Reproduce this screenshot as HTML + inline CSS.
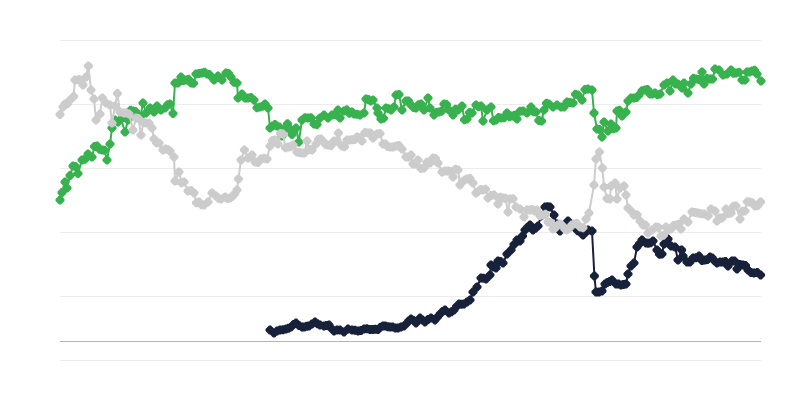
<!DOCTYPE html>
<html lang="en">
<head>
<meta charset="utf-8">
<title>Chart</title>
<style>
html,body{margin:0;padding:0;background:#fff;font-family:"Liberation Sans",sans-serif}
#chart{width:800px;height:400px;overflow:hidden;position:relative}
svg{display:block}
</style>
</head>
<body>
<div id="chart">
<svg width="800" height="400" viewBox="0 0 800 400" role="img" aria-label="Line chart">
<title>Line chart</title>
<rect x="0" y="0" width="800" height="400" fill="#ffffff"/>
<g><path d="M60 40.5H761" stroke="#ececec" stroke-width="1" fill="none"/><path d="M60 104.5H761" stroke="#ececec" stroke-width="1" fill="none"/><path d="M60 168.5H761" stroke="#ececec" stroke-width="1" fill="none"/><path d="M60 232.5H761" stroke="#ececec" stroke-width="1" fill="none"/><path d="M60 296.5H761" stroke="#ececec" stroke-width="1" fill="none"/><path d="M60 360.5H761" stroke="#ececec" stroke-width="1" fill="none"/></g>
<path d="M60 341.5H761" stroke="#b4b4b4" stroke-width="1" fill="none"/>
<g><path d="M 60.0 200.0 L 62.0 192.4 L 65.0 182.0 L 67.0 188.0 L 70.0 175.6 L 73.0 166.0 L 75.5 166.4 L 78.0 173.6 L 82.0 160.0 L 85.0 159.2 L 88.0 154.0 L 92.0 157.0 L 94.5 146.6 L 97.0 146.0 L 99.5 149.2 L 102.0 150.0 L 104.5 150.2 L 107.0 160.0 L 110.0 144.0 L 112.0 128.0 L 115.0 120.0 L 118.0 122.0 L 121.0 119.0 L 125.0 132.0 L 128.0 120.0 L 130.5 110.2 L 133.0 111.0 L 135.5 111.6 L 138.0 116.0 L 140.5 116.2 L 143.0 103.0 L 146.0 113.0 L 150.0 108.0 L 154.0 112.0 L 157.0 106.0 L 161.0 110.0 L 165.0 108.0 L 167.5 104.8 L 170.0 104.0 L 173.0 113.6 L 175.0 83.0 L 178.0 83.0 L 181.0 77.0 L 183.5 80.6 L 186.0 80.0 L 188.5 79.2 L 191.0 83.0 L 193.5 83.2 L 196.0 74.0 L 199.0 73.4 L 202.0 73.0 L 204.5 72.2 L 207.0 74.0 L 209.3 74.4 L 211.7 77.1 L 214.0 80.0 L 218.0 76.0 L 222.0 80.0 L 226.0 73.0 L 228.5 73.5 L 231.0 77.0 L 234.0 82.2 L 237.0 83.0 L 238.0 98.0 L 242.0 94.0 L 245.0 97.9 L 248.0 98.0 L 251.0 97.6 L 254.0 100.0 L 257.0 107.7 L 260.0 107.0 L 262.5 106.3 L 265.0 104.0 L 268.0 108.0 L 270.0 128.0 L 272.5 126.0 L 275.0 124.4 L 277.0 126.0 L 279.4 127.0 L 282.0 136.0 L 284.5 130.0 L 287.5 123.8 L 290.0 129.0 L 292.0 134.4 L 294.0 131.0 L 296.0 128.0 L 298.8 142.0 L 302.0 120.0 L 305.0 117.7 L 308.0 118.0 L 311.0 117.8 L 314.0 124.0 L 317.0 124.6 L 320.0 118.0 L 324.0 115.0 L 328.0 118.0 L 332.0 115.0 L 335.0 114.6 L 338.0 110.0 L 340.0 118.0 L 344.0 111.0 L 346.7 109.8 L 349.3 113.2 L 352.0 112.0 L 354.0 114.0 L 357.0 114.3 L 360.0 115.0 L 364.0 113.0 L 366.0 99.0 L 368.3 99.4 L 370.7 101.1 L 373.0 100.0 L 377.0 108.0 L 378.0 113.0 L 381.0 119.0 L 383.5 118.3 L 386.0 108.0 L 388.5 108.7 L 391.0 110.0 L 394.0 107.0 L 396.0 95.0 L 399.0 94.5 L 402.0 110.0 L 406.0 101.0 L 408.5 100.9 L 411.0 105.0 L 413.5 107.4 L 416.0 108.0 L 418.5 104.8 L 421.0 104.0 L 424.0 110.0 L 428.0 98.0 L 430.0 108.0 L 434.0 115.0 L 436.5 112.4 L 439.0 112.0 L 441.5 111.2 L 444.0 104.0 L 446.5 104.4 L 449.0 110.0 L 453.0 115.0 L 455.5 109.2 L 458.0 110.0 L 462.0 106.0 L 464.5 119.8 L 467.0 119.0 L 469.5 112.4 L 472.0 113.0 L 476.0 105.0 L 478.5 106.8 L 481.0 106.0 L 483.0 121.0 L 487.0 110.0 L 491.0 107.0 L 493.5 120.8 L 496.0 120.0 L 498.5 117.6 L 501.0 118.0 L 504.0 117.8 L 507.0 113.0 L 509.5 116.7 L 512.0 116.0 L 514.5 115.3 L 517.0 119.0 L 520.0 111.2 L 523.0 111.0 L 527.0 113.0 L 531.0 107.0 L 533.5 111.8 L 536.0 112.0 L 538.8 120.6 L 541.6 121.0 L 544.0 110.0 L 546.5 103.3 L 549.0 104.0 L 553.0 107.0 L 557.0 105.0 L 561.0 107.0 L 564.0 107.0 L 567.0 102.0 L 570.0 102.4 L 573.0 103.0 L 575.5 94.2 L 578.0 95.0 L 582.0 100.0 L 585.0 89.4 L 588.0 89.0 L 592.0 90.0 L 594.0 113.0 L 597.0 129.0 L 599.5 129.5 L 602.0 137.0 L 604.0 122.0 L 608.0 131.0 L 611.0 124.0 L 613.5 128.7 L 616.0 128.0 L 617.0 111.0 L 619.5 110.2 L 622.0 116.0 L 626.0 112.0 L 628.0 101.0 L 631.0 97.9 L 634.0 98.0 L 636.5 97.5 L 639.0 95.0 L 642.0 90.8 L 645.0 90.0 L 647.5 89.4 L 650.0 94.0 L 652.5 93.9 L 655.0 93.0 L 657.5 94.7 L 660.0 94.0 L 664.0 85.0 L 667.0 83.0 L 670.0 91.0 L 673.0 80.0 L 675.5 83.9 L 678.0 84.0 L 682.0 88.0 L 684.0 83.0 L 688.0 93.0 L 691.0 84.0 L 693.5 78.2 L 696.0 79.0 L 699.0 79.5 L 702.0 72.0 L 704.0 84.0 L 707.0 78.4 L 710.0 79.0 L 712.5 79.1 L 715.0 69.0 L 719.0 70.0 L 723.0 75.0 L 727.0 74.0 L 731.0 70.0 L 733.5 73.3 L 736.0 73.0 L 739.0 72.2 L 742.0 80.0 L 745.0 80.0 L 747.0 72.0 L 749.5 72.0 L 752.0 71.0 L 754.5 70.3 L 757.0 74.0 L 761.0 81.0" fill="none" stroke="#38b24e" stroke-width="2" stroke-linejoin="round" stroke-linecap="round"/><path d="M59.0 195.5h2.0l3.5 3.5v2.0l-3.5 3.5h-2.0l-3.5 -3.5v-2.0zM61.0 187.9h2.0l3.5 3.5v2.0l-3.5 3.5h-2.0l-3.5 -3.5v-2.0zM64.0 177.5h2.0l3.5 3.5v2.0l-3.5 3.5h-2.0l-3.5 -3.5v-2.0zM66.0 183.5h2.0l3.5 3.5v2.0l-3.5 3.5h-2.0l-3.5 -3.5v-2.0zM69.0 171.1h2.0l3.5 3.5v2.0l-3.5 3.5h-2.0l-3.5 -3.5v-2.0zM72.0 161.5h2.0l3.5 3.5v2.0l-3.5 3.5h-2.0l-3.5 -3.5v-2.0zM74.5 161.9h2.0l3.5 3.5v2.0l-3.5 3.5h-2.0l-3.5 -3.5v-2.0zM77.0 169.1h2.0l3.5 3.5v2.0l-3.5 3.5h-2.0l-3.5 -3.5v-2.0zM81.0 155.5h2.0l3.5 3.5v2.0l-3.5 3.5h-2.0l-3.5 -3.5v-2.0zM84.0 154.7h2.0l3.5 3.5v2.0l-3.5 3.5h-2.0l-3.5 -3.5v-2.0zM87.0 149.5h2.0l3.5 3.5v2.0l-3.5 3.5h-2.0l-3.5 -3.5v-2.0zM91.0 152.5h2.0l3.5 3.5v2.0l-3.5 3.5h-2.0l-3.5 -3.5v-2.0zM93.5 142.1h2.0l3.5 3.5v2.0l-3.5 3.5h-2.0l-3.5 -3.5v-2.0zM96.0 141.5h2.0l3.5 3.5v2.0l-3.5 3.5h-2.0l-3.5 -3.5v-2.0zM98.5 144.7h2.0l3.5 3.5v2.0l-3.5 3.5h-2.0l-3.5 -3.5v-2.0zM101.0 145.5h2.0l3.5 3.5v2.0l-3.5 3.5h-2.0l-3.5 -3.5v-2.0zM103.5 145.7h2.0l3.5 3.5v2.0l-3.5 3.5h-2.0l-3.5 -3.5v-2.0zM106.0 155.5h2.0l3.5 3.5v2.0l-3.5 3.5h-2.0l-3.5 -3.5v-2.0zM109.0 139.5h2.0l3.5 3.5v2.0l-3.5 3.5h-2.0l-3.5 -3.5v-2.0zM111.0 123.5h2.0l3.5 3.5v2.0l-3.5 3.5h-2.0l-3.5 -3.5v-2.0zM114.0 115.5h2.0l3.5 3.5v2.0l-3.5 3.5h-2.0l-3.5 -3.5v-2.0zM117.0 117.5h2.0l3.5 3.5v2.0l-3.5 3.5h-2.0l-3.5 -3.5v-2.0zM120.0 114.5h2.0l3.5 3.5v2.0l-3.5 3.5h-2.0l-3.5 -3.5v-2.0zM124.0 127.5h2.0l3.5 3.5v2.0l-3.5 3.5h-2.0l-3.5 -3.5v-2.0zM127.0 115.5h2.0l3.5 3.5v2.0l-3.5 3.5h-2.0l-3.5 -3.5v-2.0zM129.5 105.7h2.0l3.5 3.5v2.0l-3.5 3.5h-2.0l-3.5 -3.5v-2.0zM132.0 106.5h2.0l3.5 3.5v2.0l-3.5 3.5h-2.0l-3.5 -3.5v-2.0zM134.5 107.1h2.0l3.5 3.5v2.0l-3.5 3.5h-2.0l-3.5 -3.5v-2.0zM137.0 111.5h2.0l3.5 3.5v2.0l-3.5 3.5h-2.0l-3.5 -3.5v-2.0zM139.5 111.7h2.0l3.5 3.5v2.0l-3.5 3.5h-2.0l-3.5 -3.5v-2.0zM142.0 98.5h2.0l3.5 3.5v2.0l-3.5 3.5h-2.0l-3.5 -3.5v-2.0zM145.0 108.5h2.0l3.5 3.5v2.0l-3.5 3.5h-2.0l-3.5 -3.5v-2.0zM149.0 103.5h2.0l3.5 3.5v2.0l-3.5 3.5h-2.0l-3.5 -3.5v-2.0zM153.0 107.5h2.0l3.5 3.5v2.0l-3.5 3.5h-2.0l-3.5 -3.5v-2.0zM156.0 101.5h2.0l3.5 3.5v2.0l-3.5 3.5h-2.0l-3.5 -3.5v-2.0zM160.0 105.5h2.0l3.5 3.5v2.0l-3.5 3.5h-2.0l-3.5 -3.5v-2.0zM164.0 103.5h2.0l3.5 3.5v2.0l-3.5 3.5h-2.0l-3.5 -3.5v-2.0zM166.5 100.3h2.0l3.5 3.5v2.0l-3.5 3.5h-2.0l-3.5 -3.5v-2.0zM169.0 99.5h2.0l3.5 3.5v2.0l-3.5 3.5h-2.0l-3.5 -3.5v-2.0zM172.0 109.1h2.0l3.5 3.5v2.0l-3.5 3.5h-2.0l-3.5 -3.5v-2.0zM174.0 78.5h2.0l3.5 3.5v2.0l-3.5 3.5h-2.0l-3.5 -3.5v-2.0zM177.0 78.5h2.0l3.5 3.5v2.0l-3.5 3.5h-2.0l-3.5 -3.5v-2.0zM180.0 72.5h2.0l3.5 3.5v2.0l-3.5 3.5h-2.0l-3.5 -3.5v-2.0zM182.5 76.1h2.0l3.5 3.5v2.0l-3.5 3.5h-2.0l-3.5 -3.5v-2.0zM185.0 75.5h2.0l3.5 3.5v2.0l-3.5 3.5h-2.0l-3.5 -3.5v-2.0zM187.5 74.7h2.0l3.5 3.5v2.0l-3.5 3.5h-2.0l-3.5 -3.5v-2.0zM190.0 78.5h2.0l3.5 3.5v2.0l-3.5 3.5h-2.0l-3.5 -3.5v-2.0zM192.5 78.7h2.0l3.5 3.5v2.0l-3.5 3.5h-2.0l-3.5 -3.5v-2.0zM195.0 69.5h2.0l3.5 3.5v2.0l-3.5 3.5h-2.0l-3.5 -3.5v-2.0zM198.0 68.9h2.0l3.5 3.5v2.0l-3.5 3.5h-2.0l-3.5 -3.5v-2.0zM201.0 68.5h2.0l3.5 3.5v2.0l-3.5 3.5h-2.0l-3.5 -3.5v-2.0zM203.5 67.7h2.0l3.5 3.5v2.0l-3.5 3.5h-2.0l-3.5 -3.5v-2.0zM206.0 69.5h2.0l3.5 3.5v2.0l-3.5 3.5h-2.0l-3.5 -3.5v-2.0zM208.3 69.9h2.0l3.5 3.5v2.0l-3.5 3.5h-2.0l-3.5 -3.5v-2.0zM210.7 72.6h2.0l3.5 3.5v2.0l-3.5 3.5h-2.0l-3.5 -3.5v-2.0zM213.0 75.5h2.0l3.5 3.5v2.0l-3.5 3.5h-2.0l-3.5 -3.5v-2.0zM217.0 71.5h2.0l3.5 3.5v2.0l-3.5 3.5h-2.0l-3.5 -3.5v-2.0zM221.0 75.5h2.0l3.5 3.5v2.0l-3.5 3.5h-2.0l-3.5 -3.5v-2.0zM225.0 68.5h2.0l3.5 3.5v2.0l-3.5 3.5h-2.0l-3.5 -3.5v-2.0zM227.5 69.0h2.0l3.5 3.5v2.0l-3.5 3.5h-2.0l-3.5 -3.5v-2.0zM230.0 72.5h2.0l3.5 3.5v2.0l-3.5 3.5h-2.0l-3.5 -3.5v-2.0zM233.0 77.7h2.0l3.5 3.5v2.0l-3.5 3.5h-2.0l-3.5 -3.5v-2.0zM236.0 78.5h2.0l3.5 3.5v2.0l-3.5 3.5h-2.0l-3.5 -3.5v-2.0zM237.0 93.5h2.0l3.5 3.5v2.0l-3.5 3.5h-2.0l-3.5 -3.5v-2.0zM241.0 89.5h2.0l3.5 3.5v2.0l-3.5 3.5h-2.0l-3.5 -3.5v-2.0zM244.0 93.4h2.0l3.5 3.5v2.0l-3.5 3.5h-2.0l-3.5 -3.5v-2.0zM247.0 93.5h2.0l3.5 3.5v2.0l-3.5 3.5h-2.0l-3.5 -3.5v-2.0zM250.0 93.1h2.0l3.5 3.5v2.0l-3.5 3.5h-2.0l-3.5 -3.5v-2.0zM253.0 95.5h2.0l3.5 3.5v2.0l-3.5 3.5h-2.0l-3.5 -3.5v-2.0zM256.0 103.2h2.0l3.5 3.5v2.0l-3.5 3.5h-2.0l-3.5 -3.5v-2.0zM259.0 102.5h2.0l3.5 3.5v2.0l-3.5 3.5h-2.0l-3.5 -3.5v-2.0zM261.5 101.8h2.0l3.5 3.5v2.0l-3.5 3.5h-2.0l-3.5 -3.5v-2.0zM264.0 99.5h2.0l3.5 3.5v2.0l-3.5 3.5h-2.0l-3.5 -3.5v-2.0zM267.0 103.5h2.0l3.5 3.5v2.0l-3.5 3.5h-2.0l-3.5 -3.5v-2.0zM269.0 123.5h2.0l3.5 3.5v2.0l-3.5 3.5h-2.0l-3.5 -3.5v-2.0zM271.5 121.5h2.0l3.5 3.5v2.0l-3.5 3.5h-2.0l-3.5 -3.5v-2.0zM274.0 119.9h2.0l3.5 3.5v2.0l-3.5 3.5h-2.0l-3.5 -3.5v-2.0zM276.0 121.5h2.0l3.5 3.5v2.0l-3.5 3.5h-2.0l-3.5 -3.5v-2.0zM278.4 122.5h2.0l3.5 3.5v2.0l-3.5 3.5h-2.0l-3.5 -3.5v-2.0zM281.0 131.5h2.0l3.5 3.5v2.0l-3.5 3.5h-2.0l-3.5 -3.5v-2.0zM283.5 125.5h2.0l3.5 3.5v2.0l-3.5 3.5h-2.0l-3.5 -3.5v-2.0zM286.5 119.2h2.0l3.5 3.5v2.0l-3.5 3.5h-2.0l-3.5 -3.5v-2.0zM289.0 124.5h2.0l3.5 3.5v2.0l-3.5 3.5h-2.0l-3.5 -3.5v-2.0zM291.0 129.9h2.0l3.5 3.5v2.0l-3.5 3.5h-2.0l-3.5 -3.5v-2.0zM293.0 126.5h2.0l3.5 3.5v2.0l-3.5 3.5h-2.0l-3.5 -3.5v-2.0zM295.0 123.5h2.0l3.5 3.5v2.0l-3.5 3.5h-2.0l-3.5 -3.5v-2.0zM297.8 137.5h2.0l3.5 3.5v2.0l-3.5 3.5h-2.0l-3.5 -3.5v-2.0zM301.0 115.5h2.0l3.5 3.5v2.0l-3.5 3.5h-2.0l-3.5 -3.5v-2.0zM304.0 113.2h2.0l3.5 3.5v2.0l-3.5 3.5h-2.0l-3.5 -3.5v-2.0zM307.0 113.5h2.0l3.5 3.5v2.0l-3.5 3.5h-2.0l-3.5 -3.5v-2.0zM310.0 113.3h2.0l3.5 3.5v2.0l-3.5 3.5h-2.0l-3.5 -3.5v-2.0zM313.0 119.5h2.0l3.5 3.5v2.0l-3.5 3.5h-2.0l-3.5 -3.5v-2.0zM316.0 120.1h2.0l3.5 3.5v2.0l-3.5 3.5h-2.0l-3.5 -3.5v-2.0zM319.0 113.5h2.0l3.5 3.5v2.0l-3.5 3.5h-2.0l-3.5 -3.5v-2.0zM323.0 110.5h2.0l3.5 3.5v2.0l-3.5 3.5h-2.0l-3.5 -3.5v-2.0zM327.0 113.5h2.0l3.5 3.5v2.0l-3.5 3.5h-2.0l-3.5 -3.5v-2.0zM331.0 110.5h2.0l3.5 3.5v2.0l-3.5 3.5h-2.0l-3.5 -3.5v-2.0zM334.0 110.1h2.0l3.5 3.5v2.0l-3.5 3.5h-2.0l-3.5 -3.5v-2.0zM337.0 105.5h2.0l3.5 3.5v2.0l-3.5 3.5h-2.0l-3.5 -3.5v-2.0zM339.0 113.5h2.0l3.5 3.5v2.0l-3.5 3.5h-2.0l-3.5 -3.5v-2.0zM343.0 106.5h2.0l3.5 3.5v2.0l-3.5 3.5h-2.0l-3.5 -3.5v-2.0zM345.7 105.3h2.0l3.5 3.5v2.0l-3.5 3.5h-2.0l-3.5 -3.5v-2.0zM348.3 108.7h2.0l3.5 3.5v2.0l-3.5 3.5h-2.0l-3.5 -3.5v-2.0zM351.0 107.5h2.0l3.5 3.5v2.0l-3.5 3.5h-2.0l-3.5 -3.5v-2.0zM353.0 109.5h2.0l3.5 3.5v2.0l-3.5 3.5h-2.0l-3.5 -3.5v-2.0zM356.0 109.8h2.0l3.5 3.5v2.0l-3.5 3.5h-2.0l-3.5 -3.5v-2.0zM359.0 110.5h2.0l3.5 3.5v2.0l-3.5 3.5h-2.0l-3.5 -3.5v-2.0zM363.0 108.5h2.0l3.5 3.5v2.0l-3.5 3.5h-2.0l-3.5 -3.5v-2.0zM365.0 94.5h2.0l3.5 3.5v2.0l-3.5 3.5h-2.0l-3.5 -3.5v-2.0zM367.3 94.9h2.0l3.5 3.5v2.0l-3.5 3.5h-2.0l-3.5 -3.5v-2.0zM369.7 96.6h2.0l3.5 3.5v2.0l-3.5 3.5h-2.0l-3.5 -3.5v-2.0zM372.0 95.5h2.0l3.5 3.5v2.0l-3.5 3.5h-2.0l-3.5 -3.5v-2.0zM376.0 103.5h2.0l3.5 3.5v2.0l-3.5 3.5h-2.0l-3.5 -3.5v-2.0zM377.0 108.5h2.0l3.5 3.5v2.0l-3.5 3.5h-2.0l-3.5 -3.5v-2.0zM380.0 114.5h2.0l3.5 3.5v2.0l-3.5 3.5h-2.0l-3.5 -3.5v-2.0zM382.5 113.8h2.0l3.5 3.5v2.0l-3.5 3.5h-2.0l-3.5 -3.5v-2.0zM385.0 103.5h2.0l3.5 3.5v2.0l-3.5 3.5h-2.0l-3.5 -3.5v-2.0zM387.5 104.2h2.0l3.5 3.5v2.0l-3.5 3.5h-2.0l-3.5 -3.5v-2.0zM390.0 105.5h2.0l3.5 3.5v2.0l-3.5 3.5h-2.0l-3.5 -3.5v-2.0zM393.0 102.5h2.0l3.5 3.5v2.0l-3.5 3.5h-2.0l-3.5 -3.5v-2.0zM395.0 90.5h2.0l3.5 3.5v2.0l-3.5 3.5h-2.0l-3.5 -3.5v-2.0zM398.0 90.0h2.0l3.5 3.5v2.0l-3.5 3.5h-2.0l-3.5 -3.5v-2.0zM401.0 105.5h2.0l3.5 3.5v2.0l-3.5 3.5h-2.0l-3.5 -3.5v-2.0zM405.0 96.5h2.0l3.5 3.5v2.0l-3.5 3.5h-2.0l-3.5 -3.5v-2.0zM407.5 96.4h2.0l3.5 3.5v2.0l-3.5 3.5h-2.0l-3.5 -3.5v-2.0zM410.0 100.5h2.0l3.5 3.5v2.0l-3.5 3.5h-2.0l-3.5 -3.5v-2.0zM412.5 102.9h2.0l3.5 3.5v2.0l-3.5 3.5h-2.0l-3.5 -3.5v-2.0zM415.0 103.5h2.0l3.5 3.5v2.0l-3.5 3.5h-2.0l-3.5 -3.5v-2.0zM417.5 100.3h2.0l3.5 3.5v2.0l-3.5 3.5h-2.0l-3.5 -3.5v-2.0zM420.0 99.5h2.0l3.5 3.5v2.0l-3.5 3.5h-2.0l-3.5 -3.5v-2.0zM423.0 105.5h2.0l3.5 3.5v2.0l-3.5 3.5h-2.0l-3.5 -3.5v-2.0zM427.0 93.5h2.0l3.5 3.5v2.0l-3.5 3.5h-2.0l-3.5 -3.5v-2.0zM429.0 103.5h2.0l3.5 3.5v2.0l-3.5 3.5h-2.0l-3.5 -3.5v-2.0zM433.0 110.5h2.0l3.5 3.5v2.0l-3.5 3.5h-2.0l-3.5 -3.5v-2.0zM435.5 107.9h2.0l3.5 3.5v2.0l-3.5 3.5h-2.0l-3.5 -3.5v-2.0zM438.0 107.5h2.0l3.5 3.5v2.0l-3.5 3.5h-2.0l-3.5 -3.5v-2.0zM440.5 106.7h2.0l3.5 3.5v2.0l-3.5 3.5h-2.0l-3.5 -3.5v-2.0zM443.0 99.5h2.0l3.5 3.5v2.0l-3.5 3.5h-2.0l-3.5 -3.5v-2.0zM445.5 99.9h2.0l3.5 3.5v2.0l-3.5 3.5h-2.0l-3.5 -3.5v-2.0zM448.0 105.5h2.0l3.5 3.5v2.0l-3.5 3.5h-2.0l-3.5 -3.5v-2.0zM452.0 110.5h2.0l3.5 3.5v2.0l-3.5 3.5h-2.0l-3.5 -3.5v-2.0zM454.5 104.7h2.0l3.5 3.5v2.0l-3.5 3.5h-2.0l-3.5 -3.5v-2.0zM457.0 105.5h2.0l3.5 3.5v2.0l-3.5 3.5h-2.0l-3.5 -3.5v-2.0zM461.0 101.5h2.0l3.5 3.5v2.0l-3.5 3.5h-2.0l-3.5 -3.5v-2.0zM463.5 115.3h2.0l3.5 3.5v2.0l-3.5 3.5h-2.0l-3.5 -3.5v-2.0zM466.0 114.5h2.0l3.5 3.5v2.0l-3.5 3.5h-2.0l-3.5 -3.5v-2.0zM468.5 107.9h2.0l3.5 3.5v2.0l-3.5 3.5h-2.0l-3.5 -3.5v-2.0zM471.0 108.5h2.0l3.5 3.5v2.0l-3.5 3.5h-2.0l-3.5 -3.5v-2.0zM475.0 100.5h2.0l3.5 3.5v2.0l-3.5 3.5h-2.0l-3.5 -3.5v-2.0zM477.5 102.3h2.0l3.5 3.5v2.0l-3.5 3.5h-2.0l-3.5 -3.5v-2.0zM480.0 101.5h2.0l3.5 3.5v2.0l-3.5 3.5h-2.0l-3.5 -3.5v-2.0zM482.0 116.5h2.0l3.5 3.5v2.0l-3.5 3.5h-2.0l-3.5 -3.5v-2.0zM486.0 105.5h2.0l3.5 3.5v2.0l-3.5 3.5h-2.0l-3.5 -3.5v-2.0zM490.0 102.5h2.0l3.5 3.5v2.0l-3.5 3.5h-2.0l-3.5 -3.5v-2.0zM492.5 116.3h2.0l3.5 3.5v2.0l-3.5 3.5h-2.0l-3.5 -3.5v-2.0zM495.0 115.5h2.0l3.5 3.5v2.0l-3.5 3.5h-2.0l-3.5 -3.5v-2.0zM497.5 113.1h2.0l3.5 3.5v2.0l-3.5 3.5h-2.0l-3.5 -3.5v-2.0zM500.0 113.5h2.0l3.5 3.5v2.0l-3.5 3.5h-2.0l-3.5 -3.5v-2.0zM503.0 113.3h2.0l3.5 3.5v2.0l-3.5 3.5h-2.0l-3.5 -3.5v-2.0zM506.0 108.5h2.0l3.5 3.5v2.0l-3.5 3.5h-2.0l-3.5 -3.5v-2.0zM508.5 112.2h2.0l3.5 3.5v2.0l-3.5 3.5h-2.0l-3.5 -3.5v-2.0zM511.0 111.5h2.0l3.5 3.5v2.0l-3.5 3.5h-2.0l-3.5 -3.5v-2.0zM513.5 110.8h2.0l3.5 3.5v2.0l-3.5 3.5h-2.0l-3.5 -3.5v-2.0zM516.0 114.5h2.0l3.5 3.5v2.0l-3.5 3.5h-2.0l-3.5 -3.5v-2.0zM519.0 106.7h2.0l3.5 3.5v2.0l-3.5 3.5h-2.0l-3.5 -3.5v-2.0zM522.0 106.5h2.0l3.5 3.5v2.0l-3.5 3.5h-2.0l-3.5 -3.5v-2.0zM526.0 108.5h2.0l3.5 3.5v2.0l-3.5 3.5h-2.0l-3.5 -3.5v-2.0zM530.0 102.5h2.0l3.5 3.5v2.0l-3.5 3.5h-2.0l-3.5 -3.5v-2.0zM532.5 107.3h2.0l3.5 3.5v2.0l-3.5 3.5h-2.0l-3.5 -3.5v-2.0zM535.0 107.5h2.0l3.5 3.5v2.0l-3.5 3.5h-2.0l-3.5 -3.5v-2.0zM537.8 116.1h2.0l3.5 3.5v2.0l-3.5 3.5h-2.0l-3.5 -3.5v-2.0zM540.6 116.5h2.0l3.5 3.5v2.0l-3.5 3.5h-2.0l-3.5 -3.5v-2.0zM543.0 105.5h2.0l3.5 3.5v2.0l-3.5 3.5h-2.0l-3.5 -3.5v-2.0zM545.5 98.8h2.0l3.5 3.5v2.0l-3.5 3.5h-2.0l-3.5 -3.5v-2.0zM548.0 99.5h2.0l3.5 3.5v2.0l-3.5 3.5h-2.0l-3.5 -3.5v-2.0zM552.0 102.5h2.0l3.5 3.5v2.0l-3.5 3.5h-2.0l-3.5 -3.5v-2.0zM556.0 100.5h2.0l3.5 3.5v2.0l-3.5 3.5h-2.0l-3.5 -3.5v-2.0zM560.0 102.5h2.0l3.5 3.5v2.0l-3.5 3.5h-2.0l-3.5 -3.5v-2.0zM563.0 102.5h2.0l3.5 3.5v2.0l-3.5 3.5h-2.0l-3.5 -3.5v-2.0zM566.0 97.5h2.0l3.5 3.5v2.0l-3.5 3.5h-2.0l-3.5 -3.5v-2.0zM569.0 97.9h2.0l3.5 3.5v2.0l-3.5 3.5h-2.0l-3.5 -3.5v-2.0zM572.0 98.5h2.0l3.5 3.5v2.0l-3.5 3.5h-2.0l-3.5 -3.5v-2.0zM574.5 89.7h2.0l3.5 3.5v2.0l-3.5 3.5h-2.0l-3.5 -3.5v-2.0zM577.0 90.5h2.0l3.5 3.5v2.0l-3.5 3.5h-2.0l-3.5 -3.5v-2.0zM581.0 95.5h2.0l3.5 3.5v2.0l-3.5 3.5h-2.0l-3.5 -3.5v-2.0zM584.0 84.9h2.0l3.5 3.5v2.0l-3.5 3.5h-2.0l-3.5 -3.5v-2.0zM587.0 84.5h2.0l3.5 3.5v2.0l-3.5 3.5h-2.0l-3.5 -3.5v-2.0zM591.0 85.5h2.0l3.5 3.5v2.0l-3.5 3.5h-2.0l-3.5 -3.5v-2.0zM593.0 108.5h2.0l3.5 3.5v2.0l-3.5 3.5h-2.0l-3.5 -3.5v-2.0zM596.0 124.5h2.0l3.5 3.5v2.0l-3.5 3.5h-2.0l-3.5 -3.5v-2.0zM598.5 125.0h2.0l3.5 3.5v2.0l-3.5 3.5h-2.0l-3.5 -3.5v-2.0zM601.0 132.5h2.0l3.5 3.5v2.0l-3.5 3.5h-2.0l-3.5 -3.5v-2.0zM603.0 117.5h2.0l3.5 3.5v2.0l-3.5 3.5h-2.0l-3.5 -3.5v-2.0zM607.0 126.5h2.0l3.5 3.5v2.0l-3.5 3.5h-2.0l-3.5 -3.5v-2.0zM610.0 119.5h2.0l3.5 3.5v2.0l-3.5 3.5h-2.0l-3.5 -3.5v-2.0zM612.5 124.2h2.0l3.5 3.5v2.0l-3.5 3.5h-2.0l-3.5 -3.5v-2.0zM615.0 123.5h2.0l3.5 3.5v2.0l-3.5 3.5h-2.0l-3.5 -3.5v-2.0zM616.0 106.5h2.0l3.5 3.5v2.0l-3.5 3.5h-2.0l-3.5 -3.5v-2.0zM618.5 105.7h2.0l3.5 3.5v2.0l-3.5 3.5h-2.0l-3.5 -3.5v-2.0zM621.0 111.5h2.0l3.5 3.5v2.0l-3.5 3.5h-2.0l-3.5 -3.5v-2.0zM625.0 107.5h2.0l3.5 3.5v2.0l-3.5 3.5h-2.0l-3.5 -3.5v-2.0zM627.0 96.5h2.0l3.5 3.5v2.0l-3.5 3.5h-2.0l-3.5 -3.5v-2.0zM630.0 93.4h2.0l3.5 3.5v2.0l-3.5 3.5h-2.0l-3.5 -3.5v-2.0zM633.0 93.5h2.0l3.5 3.5v2.0l-3.5 3.5h-2.0l-3.5 -3.5v-2.0zM635.5 93.0h2.0l3.5 3.5v2.0l-3.5 3.5h-2.0l-3.5 -3.5v-2.0zM638.0 90.5h2.0l3.5 3.5v2.0l-3.5 3.5h-2.0l-3.5 -3.5v-2.0zM641.0 86.3h2.0l3.5 3.5v2.0l-3.5 3.5h-2.0l-3.5 -3.5v-2.0zM644.0 85.5h2.0l3.5 3.5v2.0l-3.5 3.5h-2.0l-3.5 -3.5v-2.0zM646.5 84.9h2.0l3.5 3.5v2.0l-3.5 3.5h-2.0l-3.5 -3.5v-2.0zM649.0 89.5h2.0l3.5 3.5v2.0l-3.5 3.5h-2.0l-3.5 -3.5v-2.0zM651.5 89.4h2.0l3.5 3.5v2.0l-3.5 3.5h-2.0l-3.5 -3.5v-2.0zM654.0 88.5h2.0l3.5 3.5v2.0l-3.5 3.5h-2.0l-3.5 -3.5v-2.0zM656.5 90.2h2.0l3.5 3.5v2.0l-3.5 3.5h-2.0l-3.5 -3.5v-2.0zM659.0 89.5h2.0l3.5 3.5v2.0l-3.5 3.5h-2.0l-3.5 -3.5v-2.0zM663.0 80.5h2.0l3.5 3.5v2.0l-3.5 3.5h-2.0l-3.5 -3.5v-2.0zM666.0 78.5h2.0l3.5 3.5v2.0l-3.5 3.5h-2.0l-3.5 -3.5v-2.0zM669.0 86.5h2.0l3.5 3.5v2.0l-3.5 3.5h-2.0l-3.5 -3.5v-2.0zM672.0 75.5h2.0l3.5 3.5v2.0l-3.5 3.5h-2.0l-3.5 -3.5v-2.0zM674.5 79.4h2.0l3.5 3.5v2.0l-3.5 3.5h-2.0l-3.5 -3.5v-2.0zM677.0 79.5h2.0l3.5 3.5v2.0l-3.5 3.5h-2.0l-3.5 -3.5v-2.0zM681.0 83.5h2.0l3.5 3.5v2.0l-3.5 3.5h-2.0l-3.5 -3.5v-2.0zM683.0 78.5h2.0l3.5 3.5v2.0l-3.5 3.5h-2.0l-3.5 -3.5v-2.0zM687.0 88.5h2.0l3.5 3.5v2.0l-3.5 3.5h-2.0l-3.5 -3.5v-2.0zM690.0 79.5h2.0l3.5 3.5v2.0l-3.5 3.5h-2.0l-3.5 -3.5v-2.0zM692.5 73.7h2.0l3.5 3.5v2.0l-3.5 3.5h-2.0l-3.5 -3.5v-2.0zM695.0 74.5h2.0l3.5 3.5v2.0l-3.5 3.5h-2.0l-3.5 -3.5v-2.0zM698.0 75.0h2.0l3.5 3.5v2.0l-3.5 3.5h-2.0l-3.5 -3.5v-2.0zM701.0 67.5h2.0l3.5 3.5v2.0l-3.5 3.5h-2.0l-3.5 -3.5v-2.0zM703.0 79.5h2.0l3.5 3.5v2.0l-3.5 3.5h-2.0l-3.5 -3.5v-2.0zM706.0 73.9h2.0l3.5 3.5v2.0l-3.5 3.5h-2.0l-3.5 -3.5v-2.0zM709.0 74.5h2.0l3.5 3.5v2.0l-3.5 3.5h-2.0l-3.5 -3.5v-2.0zM711.5 74.6h2.0l3.5 3.5v2.0l-3.5 3.5h-2.0l-3.5 -3.5v-2.0zM714.0 64.5h2.0l3.5 3.5v2.0l-3.5 3.5h-2.0l-3.5 -3.5v-2.0zM718.0 65.5h2.0l3.5 3.5v2.0l-3.5 3.5h-2.0l-3.5 -3.5v-2.0zM722.0 70.5h2.0l3.5 3.5v2.0l-3.5 3.5h-2.0l-3.5 -3.5v-2.0zM726.0 69.5h2.0l3.5 3.5v2.0l-3.5 3.5h-2.0l-3.5 -3.5v-2.0zM730.0 65.5h2.0l3.5 3.5v2.0l-3.5 3.5h-2.0l-3.5 -3.5v-2.0zM732.5 68.8h2.0l3.5 3.5v2.0l-3.5 3.5h-2.0l-3.5 -3.5v-2.0zM735.0 68.5h2.0l3.5 3.5v2.0l-3.5 3.5h-2.0l-3.5 -3.5v-2.0zM738.0 67.7h2.0l3.5 3.5v2.0l-3.5 3.5h-2.0l-3.5 -3.5v-2.0zM741.0 75.5h2.0l3.5 3.5v2.0l-3.5 3.5h-2.0l-3.5 -3.5v-2.0zM744.0 75.5h2.0l3.5 3.5v2.0l-3.5 3.5h-2.0l-3.5 -3.5v-2.0zM746.0 67.5h2.0l3.5 3.5v2.0l-3.5 3.5h-2.0l-3.5 -3.5v-2.0zM748.5 67.5h2.0l3.5 3.5v2.0l-3.5 3.5h-2.0l-3.5 -3.5v-2.0zM751.0 66.5h2.0l3.5 3.5v2.0l-3.5 3.5h-2.0l-3.5 -3.5v-2.0zM753.5 65.8h2.0l3.5 3.5v2.0l-3.5 3.5h-2.0l-3.5 -3.5v-2.0zM756.0 69.5h2.0l3.5 3.5v2.0l-3.5 3.5h-2.0l-3.5 -3.5v-2.0zM760.0 76.5h2.0l3.5 3.5v2.0l-3.5 3.5h-2.0l-3.5 -3.5v-2.0z" fill="#38b24e"/></g>
<g><path d="M 270.0 330.0 L 274.0 333.0 L 277.0 331.1 L 280.0 330.0 L 283.0 329.7 L 286.0 329.0 L 288.5 328.2 L 291.0 327.0 L 293.5 324.5 L 296.0 323.0 L 299.0 325.4 L 302.0 327.0 L 304.3 327.1 L 306.7 326.3 L 309.0 326.0 L 312.0 324.1 L 315.0 322.0 L 317.5 323.8 L 320.0 325.0 L 324.0 326.0 L 326.5 325.5 L 329.0 325.0 L 331.5 328.4 L 334.0 331.0 L 337.0 330.0 L 340.0 330.0 L 344.0 332.0 L 348.0 329.0 L 352.0 330.0 L 355.0 330.3 L 358.0 331.0 L 361.0 330.4 L 364.0 329.0 L 367.0 328.7 L 370.0 329.4 L 372.7 329.6 L 375.3 329.3 L 378.0 329.4 L 380.5 327.3 L 383.0 326.0 L 385.3 326.0 L 387.7 326.8 L 390.0 327.0 L 392.7 326.9 L 395.3 328.1 L 398.0 328.0 L 401.0 327.1 L 404.0 326.0 L 406.3 323.8 L 408.7 321.0 L 411.0 319.0 L 413.5 320.6 L 416.0 323.0 L 420.0 318.0 L 422.5 320.1 L 425.0 322.0 L 428.0 319.6 L 431.0 318.0 L 435.0 320.0 L 437.5 317.1 L 440.0 314.0 L 442.5 311.5 L 445.0 310.0 L 449.0 313.0 L 451.5 311.7 L 454.0 310.0 L 456.5 306.5 L 459.0 304.0 L 461.5 304.3 L 464.0 304.0 L 467.0 302.1 L 470.0 300.0 L 473.0 292.0 L 477.0 287.0 L 481.0 278.0 L 483.5 278.2 L 486.0 279.0 L 490.0 275.0 L 491.0 265.0 L 493.5 267.0 L 496.0 268.0 L 498.0 261.0 L 500.5 261.5 L 503.0 263.0 L 507.0 254.0 L 511.0 250.0 L 514.0 244.6 L 517.0 240.0 L 520.0 241.0 L 522.5 236.0 L 525.0 230.0 L 527.5 227.3 L 530.0 225.0 L 533.0 230.0 L 535.5 228.3 L 538.0 226.0 L 541.0 216.0 L 545.0 207.0 L 547.5 206.7 L 550.0 207.0 L 554.0 215.0 L 557.0 224.0 L 560.0 231.0 L 562.7 228.2 L 565.3 223.8 L 568.0 221.0 L 570.3 223.6 L 572.7 225.4 L 575.0 228.0 L 577.7 230.8 L 580.3 232.2 L 583.0 235.0 L 585.5 232.6 L 588.0 230.0 L 592.0 231.0 L 594.4 276.0 L 596.0 292.0 L 599.0 291.9 L 602.0 291.0 L 605.0 284.0 L 607.3 282.4 L 609.7 281.6 L 612.0 280.0 L 616.0 284.0 L 618.5 284.0 L 621.0 285.0 L 623.5 284.6 L 626.0 284.0 L 628.0 274.0 L 631.0 266.0 L 634.0 263.0 L 637.0 247.0 L 639.5 243.8 L 642.0 240.0 L 646.0 243.0 L 648.3 243.3 L 650.7 242.8 L 653.0 241.0 L 657.0 250.0 L 659.5 254.2 L 662.0 254.0 L 664.0 244.0 L 668.0 239.0 L 671.0 246.0 L 675.0 247.0 L 678.0 260.0 L 681.6 250.0 L 683.0 256.0 L 687.0 262.0 L 690.0 262.0 L 693.0 258.0 L 696.0 257.7 L 699.0 256.0 L 702.0 260.6 L 705.0 260.0 L 707.5 259.5 L 710.0 257.0 L 712.3 257.9 L 714.7 261.0 L 717.0 263.0 L 720.0 261.9 L 723.0 262.0 L 725.5 261.6 L 728.0 266.0 L 732.0 261.0 L 734.5 261.0 L 737.0 269.0 L 740.0 264.6 L 743.0 265.0 L 745.5 265.6 L 748.0 270.0 L 751.0 272.6 L 754.0 273.0 L 757.3 272.5 L 760.6 275.0" fill="none" stroke="#18213a" stroke-width="2" stroke-linejoin="round" stroke-linecap="round"/><path d="M269.0 325.5h2.0l3.5 3.5v2.0l-3.5 3.5h-2.0l-3.5 -3.5v-2.0zM273.0 328.5h2.0l3.5 3.5v2.0l-3.5 3.5h-2.0l-3.5 -3.5v-2.0zM276.0 326.6h2.0l3.5 3.5v2.0l-3.5 3.5h-2.0l-3.5 -3.5v-2.0zM279.0 325.5h2.0l3.5 3.5v2.0l-3.5 3.5h-2.0l-3.5 -3.5v-2.0zM282.0 325.2h2.0l3.5 3.5v2.0l-3.5 3.5h-2.0l-3.5 -3.5v-2.0zM285.0 324.5h2.0l3.5 3.5v2.0l-3.5 3.5h-2.0l-3.5 -3.5v-2.0zM287.5 323.7h2.0l3.5 3.5v2.0l-3.5 3.5h-2.0l-3.5 -3.5v-2.0zM290.0 322.5h2.0l3.5 3.5v2.0l-3.5 3.5h-2.0l-3.5 -3.5v-2.0zM292.5 320.0h2.0l3.5 3.5v2.0l-3.5 3.5h-2.0l-3.5 -3.5v-2.0zM295.0 318.5h2.0l3.5 3.5v2.0l-3.5 3.5h-2.0l-3.5 -3.5v-2.0zM298.0 320.9h2.0l3.5 3.5v2.0l-3.5 3.5h-2.0l-3.5 -3.5v-2.0zM301.0 322.5h2.0l3.5 3.5v2.0l-3.5 3.5h-2.0l-3.5 -3.5v-2.0zM303.3 322.6h2.0l3.5 3.5v2.0l-3.5 3.5h-2.0l-3.5 -3.5v-2.0zM305.7 321.8h2.0l3.5 3.5v2.0l-3.5 3.5h-2.0l-3.5 -3.5v-2.0zM308.0 321.5h2.0l3.5 3.5v2.0l-3.5 3.5h-2.0l-3.5 -3.5v-2.0zM311.0 319.6h2.0l3.5 3.5v2.0l-3.5 3.5h-2.0l-3.5 -3.5v-2.0zM314.0 317.5h2.0l3.5 3.5v2.0l-3.5 3.5h-2.0l-3.5 -3.5v-2.0zM316.5 319.3h2.0l3.5 3.5v2.0l-3.5 3.5h-2.0l-3.5 -3.5v-2.0zM319.0 320.5h2.0l3.5 3.5v2.0l-3.5 3.5h-2.0l-3.5 -3.5v-2.0zM323.0 321.5h2.0l3.5 3.5v2.0l-3.5 3.5h-2.0l-3.5 -3.5v-2.0zM325.5 321.0h2.0l3.5 3.5v2.0l-3.5 3.5h-2.0l-3.5 -3.5v-2.0zM328.0 320.5h2.0l3.5 3.5v2.0l-3.5 3.5h-2.0l-3.5 -3.5v-2.0zM330.5 323.9h2.0l3.5 3.5v2.0l-3.5 3.5h-2.0l-3.5 -3.5v-2.0zM333.0 326.5h2.0l3.5 3.5v2.0l-3.5 3.5h-2.0l-3.5 -3.5v-2.0zM336.0 325.5h2.0l3.5 3.5v2.0l-3.5 3.5h-2.0l-3.5 -3.5v-2.0zM339.0 325.5h2.0l3.5 3.5v2.0l-3.5 3.5h-2.0l-3.5 -3.5v-2.0zM343.0 327.5h2.0l3.5 3.5v2.0l-3.5 3.5h-2.0l-3.5 -3.5v-2.0zM347.0 324.5h2.0l3.5 3.5v2.0l-3.5 3.5h-2.0l-3.5 -3.5v-2.0zM351.0 325.5h2.0l3.5 3.5v2.0l-3.5 3.5h-2.0l-3.5 -3.5v-2.0zM354.0 325.8h2.0l3.5 3.5v2.0l-3.5 3.5h-2.0l-3.5 -3.5v-2.0zM357.0 326.5h2.0l3.5 3.5v2.0l-3.5 3.5h-2.0l-3.5 -3.5v-2.0zM360.0 325.9h2.0l3.5 3.5v2.0l-3.5 3.5h-2.0l-3.5 -3.5v-2.0zM363.0 324.5h2.0l3.5 3.5v2.0l-3.5 3.5h-2.0l-3.5 -3.5v-2.0zM366.0 324.2h2.0l3.5 3.5v2.0l-3.5 3.5h-2.0l-3.5 -3.5v-2.0zM369.0 324.9h2.0l3.5 3.5v2.0l-3.5 3.5h-2.0l-3.5 -3.5v-2.0zM371.7 325.1h2.0l3.5 3.5v2.0l-3.5 3.5h-2.0l-3.5 -3.5v-2.0zM374.3 324.8h2.0l3.5 3.5v2.0l-3.5 3.5h-2.0l-3.5 -3.5v-2.0zM377.0 324.9h2.0l3.5 3.5v2.0l-3.5 3.5h-2.0l-3.5 -3.5v-2.0zM379.5 322.8h2.0l3.5 3.5v2.0l-3.5 3.5h-2.0l-3.5 -3.5v-2.0zM382.0 321.5h2.0l3.5 3.5v2.0l-3.5 3.5h-2.0l-3.5 -3.5v-2.0zM384.3 321.5h2.0l3.5 3.5v2.0l-3.5 3.5h-2.0l-3.5 -3.5v-2.0zM386.7 322.3h2.0l3.5 3.5v2.0l-3.5 3.5h-2.0l-3.5 -3.5v-2.0zM389.0 322.5h2.0l3.5 3.5v2.0l-3.5 3.5h-2.0l-3.5 -3.5v-2.0zM391.7 322.4h2.0l3.5 3.5v2.0l-3.5 3.5h-2.0l-3.5 -3.5v-2.0zM394.3 323.6h2.0l3.5 3.5v2.0l-3.5 3.5h-2.0l-3.5 -3.5v-2.0zM397.0 323.5h2.0l3.5 3.5v2.0l-3.5 3.5h-2.0l-3.5 -3.5v-2.0zM400.0 322.6h2.0l3.5 3.5v2.0l-3.5 3.5h-2.0l-3.5 -3.5v-2.0zM403.0 321.5h2.0l3.5 3.5v2.0l-3.5 3.5h-2.0l-3.5 -3.5v-2.0zM405.3 319.3h2.0l3.5 3.5v2.0l-3.5 3.5h-2.0l-3.5 -3.5v-2.0zM407.7 316.5h2.0l3.5 3.5v2.0l-3.5 3.5h-2.0l-3.5 -3.5v-2.0zM410.0 314.5h2.0l3.5 3.5v2.0l-3.5 3.5h-2.0l-3.5 -3.5v-2.0zM412.5 316.1h2.0l3.5 3.5v2.0l-3.5 3.5h-2.0l-3.5 -3.5v-2.0zM415.0 318.5h2.0l3.5 3.5v2.0l-3.5 3.5h-2.0l-3.5 -3.5v-2.0zM419.0 313.5h2.0l3.5 3.5v2.0l-3.5 3.5h-2.0l-3.5 -3.5v-2.0zM421.5 315.6h2.0l3.5 3.5v2.0l-3.5 3.5h-2.0l-3.5 -3.5v-2.0zM424.0 317.5h2.0l3.5 3.5v2.0l-3.5 3.5h-2.0l-3.5 -3.5v-2.0zM427.0 315.1h2.0l3.5 3.5v2.0l-3.5 3.5h-2.0l-3.5 -3.5v-2.0zM430.0 313.5h2.0l3.5 3.5v2.0l-3.5 3.5h-2.0l-3.5 -3.5v-2.0zM434.0 315.5h2.0l3.5 3.5v2.0l-3.5 3.5h-2.0l-3.5 -3.5v-2.0zM436.5 312.6h2.0l3.5 3.5v2.0l-3.5 3.5h-2.0l-3.5 -3.5v-2.0zM439.0 309.5h2.0l3.5 3.5v2.0l-3.5 3.5h-2.0l-3.5 -3.5v-2.0zM441.5 307.0h2.0l3.5 3.5v2.0l-3.5 3.5h-2.0l-3.5 -3.5v-2.0zM444.0 305.5h2.0l3.5 3.5v2.0l-3.5 3.5h-2.0l-3.5 -3.5v-2.0zM448.0 308.5h2.0l3.5 3.5v2.0l-3.5 3.5h-2.0l-3.5 -3.5v-2.0zM450.5 307.2h2.0l3.5 3.5v2.0l-3.5 3.5h-2.0l-3.5 -3.5v-2.0zM453.0 305.5h2.0l3.5 3.5v2.0l-3.5 3.5h-2.0l-3.5 -3.5v-2.0zM455.5 302.0h2.0l3.5 3.5v2.0l-3.5 3.5h-2.0l-3.5 -3.5v-2.0zM458.0 299.5h2.0l3.5 3.5v2.0l-3.5 3.5h-2.0l-3.5 -3.5v-2.0zM460.5 299.8h2.0l3.5 3.5v2.0l-3.5 3.5h-2.0l-3.5 -3.5v-2.0zM463.0 299.5h2.0l3.5 3.5v2.0l-3.5 3.5h-2.0l-3.5 -3.5v-2.0zM466.0 297.6h2.0l3.5 3.5v2.0l-3.5 3.5h-2.0l-3.5 -3.5v-2.0zM469.0 295.5h2.0l3.5 3.5v2.0l-3.5 3.5h-2.0l-3.5 -3.5v-2.0zM472.0 287.5h2.0l3.5 3.5v2.0l-3.5 3.5h-2.0l-3.5 -3.5v-2.0zM476.0 282.5h2.0l3.5 3.5v2.0l-3.5 3.5h-2.0l-3.5 -3.5v-2.0zM480.0 273.5h2.0l3.5 3.5v2.0l-3.5 3.5h-2.0l-3.5 -3.5v-2.0zM482.5 273.7h2.0l3.5 3.5v2.0l-3.5 3.5h-2.0l-3.5 -3.5v-2.0zM485.0 274.5h2.0l3.5 3.5v2.0l-3.5 3.5h-2.0l-3.5 -3.5v-2.0zM489.0 270.5h2.0l3.5 3.5v2.0l-3.5 3.5h-2.0l-3.5 -3.5v-2.0zM490.0 260.5h2.0l3.5 3.5v2.0l-3.5 3.5h-2.0l-3.5 -3.5v-2.0zM492.5 262.5h2.0l3.5 3.5v2.0l-3.5 3.5h-2.0l-3.5 -3.5v-2.0zM495.0 263.5h2.0l3.5 3.5v2.0l-3.5 3.5h-2.0l-3.5 -3.5v-2.0zM497.0 256.5h2.0l3.5 3.5v2.0l-3.5 3.5h-2.0l-3.5 -3.5v-2.0zM499.5 257.0h2.0l3.5 3.5v2.0l-3.5 3.5h-2.0l-3.5 -3.5v-2.0zM502.0 258.5h2.0l3.5 3.5v2.0l-3.5 3.5h-2.0l-3.5 -3.5v-2.0zM506.0 249.5h2.0l3.5 3.5v2.0l-3.5 3.5h-2.0l-3.5 -3.5v-2.0zM510.0 245.5h2.0l3.5 3.5v2.0l-3.5 3.5h-2.0l-3.5 -3.5v-2.0zM513.0 240.1h2.0l3.5 3.5v2.0l-3.5 3.5h-2.0l-3.5 -3.5v-2.0zM516.0 235.5h2.0l3.5 3.5v2.0l-3.5 3.5h-2.0l-3.5 -3.5v-2.0zM519.0 236.5h2.0l3.5 3.5v2.0l-3.5 3.5h-2.0l-3.5 -3.5v-2.0zM521.5 231.5h2.0l3.5 3.5v2.0l-3.5 3.5h-2.0l-3.5 -3.5v-2.0zM524.0 225.5h2.0l3.5 3.5v2.0l-3.5 3.5h-2.0l-3.5 -3.5v-2.0zM526.5 222.8h2.0l3.5 3.5v2.0l-3.5 3.5h-2.0l-3.5 -3.5v-2.0zM529.0 220.5h2.0l3.5 3.5v2.0l-3.5 3.5h-2.0l-3.5 -3.5v-2.0zM532.0 225.5h2.0l3.5 3.5v2.0l-3.5 3.5h-2.0l-3.5 -3.5v-2.0zM534.5 223.8h2.0l3.5 3.5v2.0l-3.5 3.5h-2.0l-3.5 -3.5v-2.0zM537.0 221.5h2.0l3.5 3.5v2.0l-3.5 3.5h-2.0l-3.5 -3.5v-2.0zM540.0 211.5h2.0l3.5 3.5v2.0l-3.5 3.5h-2.0l-3.5 -3.5v-2.0zM544.0 202.5h2.0l3.5 3.5v2.0l-3.5 3.5h-2.0l-3.5 -3.5v-2.0zM546.5 202.2h2.0l3.5 3.5v2.0l-3.5 3.5h-2.0l-3.5 -3.5v-2.0zM549.0 202.5h2.0l3.5 3.5v2.0l-3.5 3.5h-2.0l-3.5 -3.5v-2.0zM553.0 210.5h2.0l3.5 3.5v2.0l-3.5 3.5h-2.0l-3.5 -3.5v-2.0zM556.0 219.5h2.0l3.5 3.5v2.0l-3.5 3.5h-2.0l-3.5 -3.5v-2.0zM559.0 226.5h2.0l3.5 3.5v2.0l-3.5 3.5h-2.0l-3.5 -3.5v-2.0zM561.7 223.7h2.0l3.5 3.5v2.0l-3.5 3.5h-2.0l-3.5 -3.5v-2.0zM564.3 219.3h2.0l3.5 3.5v2.0l-3.5 3.5h-2.0l-3.5 -3.5v-2.0zM567.0 216.5h2.0l3.5 3.5v2.0l-3.5 3.5h-2.0l-3.5 -3.5v-2.0zM569.3 219.1h2.0l3.5 3.5v2.0l-3.5 3.5h-2.0l-3.5 -3.5v-2.0zM571.7 220.9h2.0l3.5 3.5v2.0l-3.5 3.5h-2.0l-3.5 -3.5v-2.0zM574.0 223.5h2.0l3.5 3.5v2.0l-3.5 3.5h-2.0l-3.5 -3.5v-2.0zM576.7 226.3h2.0l3.5 3.5v2.0l-3.5 3.5h-2.0l-3.5 -3.5v-2.0zM579.3 227.7h2.0l3.5 3.5v2.0l-3.5 3.5h-2.0l-3.5 -3.5v-2.0zM582.0 230.5h2.0l3.5 3.5v2.0l-3.5 3.5h-2.0l-3.5 -3.5v-2.0zM584.5 228.1h2.0l3.5 3.5v2.0l-3.5 3.5h-2.0l-3.5 -3.5v-2.0zM587.0 225.5h2.0l3.5 3.5v2.0l-3.5 3.5h-2.0l-3.5 -3.5v-2.0zM591.0 226.5h2.0l3.5 3.5v2.0l-3.5 3.5h-2.0l-3.5 -3.5v-2.0zM593.4 271.5h2.0l3.5 3.5v2.0l-3.5 3.5h-2.0l-3.5 -3.5v-2.0zM595.0 287.5h2.0l3.5 3.5v2.0l-3.5 3.5h-2.0l-3.5 -3.5v-2.0zM598.0 287.4h2.0l3.5 3.5v2.0l-3.5 3.5h-2.0l-3.5 -3.5v-2.0zM601.0 286.5h2.0l3.5 3.5v2.0l-3.5 3.5h-2.0l-3.5 -3.5v-2.0zM604.0 279.5h2.0l3.5 3.5v2.0l-3.5 3.5h-2.0l-3.5 -3.5v-2.0zM606.3 277.9h2.0l3.5 3.5v2.0l-3.5 3.5h-2.0l-3.5 -3.5v-2.0zM608.7 277.1h2.0l3.5 3.5v2.0l-3.5 3.5h-2.0l-3.5 -3.5v-2.0zM611.0 275.5h2.0l3.5 3.5v2.0l-3.5 3.5h-2.0l-3.5 -3.5v-2.0zM615.0 279.5h2.0l3.5 3.5v2.0l-3.5 3.5h-2.0l-3.5 -3.5v-2.0zM617.5 279.5h2.0l3.5 3.5v2.0l-3.5 3.5h-2.0l-3.5 -3.5v-2.0zM620.0 280.5h2.0l3.5 3.5v2.0l-3.5 3.5h-2.0l-3.5 -3.5v-2.0zM622.5 280.1h2.0l3.5 3.5v2.0l-3.5 3.5h-2.0l-3.5 -3.5v-2.0zM625.0 279.5h2.0l3.5 3.5v2.0l-3.5 3.5h-2.0l-3.5 -3.5v-2.0zM627.0 269.5h2.0l3.5 3.5v2.0l-3.5 3.5h-2.0l-3.5 -3.5v-2.0zM630.0 261.5h2.0l3.5 3.5v2.0l-3.5 3.5h-2.0l-3.5 -3.5v-2.0zM633.0 258.5h2.0l3.5 3.5v2.0l-3.5 3.5h-2.0l-3.5 -3.5v-2.0zM636.0 242.5h2.0l3.5 3.5v2.0l-3.5 3.5h-2.0l-3.5 -3.5v-2.0zM638.5 239.3h2.0l3.5 3.5v2.0l-3.5 3.5h-2.0l-3.5 -3.5v-2.0zM641.0 235.5h2.0l3.5 3.5v2.0l-3.5 3.5h-2.0l-3.5 -3.5v-2.0zM645.0 238.5h2.0l3.5 3.5v2.0l-3.5 3.5h-2.0l-3.5 -3.5v-2.0zM647.3 238.8h2.0l3.5 3.5v2.0l-3.5 3.5h-2.0l-3.5 -3.5v-2.0zM649.7 238.3h2.0l3.5 3.5v2.0l-3.5 3.5h-2.0l-3.5 -3.5v-2.0zM652.0 236.5h2.0l3.5 3.5v2.0l-3.5 3.5h-2.0l-3.5 -3.5v-2.0zM656.0 245.5h2.0l3.5 3.5v2.0l-3.5 3.5h-2.0l-3.5 -3.5v-2.0zM658.5 249.7h2.0l3.5 3.5v2.0l-3.5 3.5h-2.0l-3.5 -3.5v-2.0zM661.0 249.5h2.0l3.5 3.5v2.0l-3.5 3.5h-2.0l-3.5 -3.5v-2.0zM663.0 239.5h2.0l3.5 3.5v2.0l-3.5 3.5h-2.0l-3.5 -3.5v-2.0zM667.0 234.5h2.0l3.5 3.5v2.0l-3.5 3.5h-2.0l-3.5 -3.5v-2.0zM670.0 241.5h2.0l3.5 3.5v2.0l-3.5 3.5h-2.0l-3.5 -3.5v-2.0zM674.0 242.5h2.0l3.5 3.5v2.0l-3.5 3.5h-2.0l-3.5 -3.5v-2.0zM677.0 255.5h2.0l3.5 3.5v2.0l-3.5 3.5h-2.0l-3.5 -3.5v-2.0zM680.6 245.5h2.0l3.5 3.5v2.0l-3.5 3.5h-2.0l-3.5 -3.5v-2.0zM682.0 251.5h2.0l3.5 3.5v2.0l-3.5 3.5h-2.0l-3.5 -3.5v-2.0zM686.0 257.5h2.0l3.5 3.5v2.0l-3.5 3.5h-2.0l-3.5 -3.5v-2.0zM689.0 257.5h2.0l3.5 3.5v2.0l-3.5 3.5h-2.0l-3.5 -3.5v-2.0zM692.0 253.5h2.0l3.5 3.5v2.0l-3.5 3.5h-2.0l-3.5 -3.5v-2.0zM695.0 253.2h2.0l3.5 3.5v2.0l-3.5 3.5h-2.0l-3.5 -3.5v-2.0zM698.0 251.5h2.0l3.5 3.5v2.0l-3.5 3.5h-2.0l-3.5 -3.5v-2.0zM701.0 256.1h2.0l3.5 3.5v2.0l-3.5 3.5h-2.0l-3.5 -3.5v-2.0zM704.0 255.5h2.0l3.5 3.5v2.0l-3.5 3.5h-2.0l-3.5 -3.5v-2.0zM706.5 255.0h2.0l3.5 3.5v2.0l-3.5 3.5h-2.0l-3.5 -3.5v-2.0zM709.0 252.5h2.0l3.5 3.5v2.0l-3.5 3.5h-2.0l-3.5 -3.5v-2.0zM711.3 253.4h2.0l3.5 3.5v2.0l-3.5 3.5h-2.0l-3.5 -3.5v-2.0zM713.7 256.5h2.0l3.5 3.5v2.0l-3.5 3.5h-2.0l-3.5 -3.5v-2.0zM716.0 258.5h2.0l3.5 3.5v2.0l-3.5 3.5h-2.0l-3.5 -3.5v-2.0zM719.0 257.4h2.0l3.5 3.5v2.0l-3.5 3.5h-2.0l-3.5 -3.5v-2.0zM722.0 257.5h2.0l3.5 3.5v2.0l-3.5 3.5h-2.0l-3.5 -3.5v-2.0zM724.5 257.1h2.0l3.5 3.5v2.0l-3.5 3.5h-2.0l-3.5 -3.5v-2.0zM727.0 261.5h2.0l3.5 3.5v2.0l-3.5 3.5h-2.0l-3.5 -3.5v-2.0zM731.0 256.5h2.0l3.5 3.5v2.0l-3.5 3.5h-2.0l-3.5 -3.5v-2.0zM733.5 256.5h2.0l3.5 3.5v2.0l-3.5 3.5h-2.0l-3.5 -3.5v-2.0zM736.0 264.5h2.0l3.5 3.5v2.0l-3.5 3.5h-2.0l-3.5 -3.5v-2.0zM739.0 260.1h2.0l3.5 3.5v2.0l-3.5 3.5h-2.0l-3.5 -3.5v-2.0zM742.0 260.5h2.0l3.5 3.5v2.0l-3.5 3.5h-2.0l-3.5 -3.5v-2.0zM744.5 261.1h2.0l3.5 3.5v2.0l-3.5 3.5h-2.0l-3.5 -3.5v-2.0zM747.0 265.5h2.0l3.5 3.5v2.0l-3.5 3.5h-2.0l-3.5 -3.5v-2.0zM750.0 268.1h2.0l3.5 3.5v2.0l-3.5 3.5h-2.0l-3.5 -3.5v-2.0zM753.0 268.5h2.0l3.5 3.5v2.0l-3.5 3.5h-2.0l-3.5 -3.5v-2.0zM756.3 268.0h2.0l3.5 3.5v2.0l-3.5 3.5h-2.0l-3.5 -3.5v-2.0zM759.6 270.5h2.0l3.5 3.5v2.0l-3.5 3.5h-2.0l-3.5 -3.5v-2.0z" fill="#18213a"/></g>
<g><path d="M 60.0 114.4 L 63.0 107.0 L 65.0 104.0 L 67.5 103.8 L 70.0 100.0 L 73.6 96.4 L 75.0 80.0 L 79.0 79.6 L 83.0 85.0 L 86.0 77.0 L 88.4 66.0 L 91.0 90.0 L 94.0 99.0 L 96.0 120.0 L 100.0 114.0 L 102.4 98.0 L 106.0 103.0 L 110.0 105.0 L 112.0 123.0 L 115.0 106.0 L 117.4 93.6 L 120.0 112.0 L 124.0 113.0 L 126.5 112.9 L 129.0 114.0 L 133.0 130.0 L 136.0 118.0 L 138.5 118.6 L 141.0 135.0 L 143.5 122.4 L 146.0 123.0 L 149.0 123.2 L 152.0 128.0 L 154.0 139.0 L 156.5 142.8 L 159.0 143.0 L 163.0 150.0 L 165.3 149.0 L 167.7 149.6 L 170.0 151.0 L 174.0 157.0 L 175.0 181.0 L 179.0 172.0 L 181.5 182.7 L 184.0 182.0 L 188.0 191.0 L 191.0 190.5 L 194.0 193.0 L 196.5 202.7 L 199.0 202.0 L 201.5 204.7 L 204.0 205.0 L 208.0 202.0 L 212.0 193.0 L 216.0 196.0 L 218.5 198.3 L 221.0 199.0 L 225.0 197.0 L 227.5 198.6 L 230.0 198.0 L 232.3 196.6 L 234.7 193.8 L 237.0 190.0 L 238.4 179.0 L 241.0 160.0 L 244.4 150.0 L 248.0 158.0 L 252.0 155.0 L 255.0 162.0 L 258.0 162.5 L 261.0 159.0 L 264.0 158.3 L 267.0 159.0 L 270.0 146.0 L 272.5 140.5 L 275.0 140.0 L 278.0 144.0 L 280.5 133.6 L 283.0 134.0 L 285.5 147.7 L 288.0 147.0 L 290.5 146.7 L 293.0 145.0 L 297.0 152.0 L 299.5 152.6 L 302.0 153.0 L 304.5 152.9 L 307.0 141.0 L 309.5 149.5 L 312.0 150.0 L 316.0 144.0 L 318.5 139.2 L 321.0 139.0 L 323.3 141.4 L 325.7 144.4 L 328.0 145.0 L 331.0 145.7 L 334.0 141.0 L 336.2 141.2 L 338.4 133.0 L 342.0 146.0 L 344.5 146.7 L 347.0 140.0 L 350.0 140.0 L 352.3 139.7 L 354.7 139.4 L 357.0 137.0 L 359.5 137.7 L 362.0 141.0 L 365.0 132.6 L 368.0 133.0 L 370.5 132.9 L 373.0 138.0 L 377.0 134.0 L 380.0 133.6 L 383.0 144.0 L 385.3 144.0 L 387.7 146.4 L 390.0 147.0 L 393.0 147.1 L 396.0 146.0 L 399.0 145.6 L 402.0 149.0 L 406.0 157.0 L 408.5 156.9 L 411.0 155.0 L 413.0 164.0 L 415.5 164.0 L 418.0 160.0 L 421.0 168.5 L 424.0 168.0 L 427.0 162.3 L 430.0 163.0 L 433.0 158.0 L 435.5 158.6 L 438.0 163.0 L 442.0 172.0 L 445.0 171.0 L 448.0 171.0 L 450.5 171.5 L 453.0 177.0 L 455.5 169.3 L 458.0 170.0 L 460.0 185.0 L 462.3 181.7 L 464.7 179.9 L 467.0 179.0 L 470.0 178.4 L 473.0 183.0 L 476.0 193.0 L 478.3 191.2 L 480.7 189.6 L 483.0 190.0 L 485.5 189.3 L 488.0 198.0 L 491.0 195.4 L 494.0 195.0 L 498.0 204.0 L 500.5 197.3 L 503.0 198.0 L 505.5 198.3 L 508.0 212.0 L 510.0 199.0 L 513.0 198.7 L 516.0 207.0 L 520.0 209.0 L 524.0 217.0 L 527.0 209.9 L 530.0 210.0 L 532.3 209.6 L 534.7 211.1 L 537.0 210.0 L 540.0 215.4 L 543.0 215.0 L 545.5 214.3 L 548.0 222.0 L 550.5 222.4 L 553.0 229.0 L 555.3 228.1 L 557.7 225.0 L 560.0 224.0 L 562.3 225.5 L 564.7 228.9 L 567.0 230.0 L 569.3 228.3 L 571.7 224.9 L 574.0 224.0 L 577.0 223.5 L 580.0 227.0 L 583.0 227.7 L 586.0 219.0 L 589.0 213.0 L 594.0 185.0 L 596.0 159.0 L 599.4 152.0 L 602.4 168.0 L 604.0 187.0 L 607.0 198.6 L 610.0 199.0 L 611.0 186.0 L 615.0 183.0 L 617.0 199.0 L 620.0 188.0 L 624.0 186.0 L 626.0 195.0 L 628.0 208.0 L 632.0 212.0 L 634.0 215.0 L 637.0 214.7 L 640.0 221.0 L 643.0 225.0 L 645.5 225.0 L 648.0 233.0 L 652.0 230.0 L 656.0 227.0 L 658.5 227.5 L 661.0 236.0 L 663.5 235.3 L 666.0 227.0 L 668.5 229.2 L 671.0 229.0 L 673.5 225.5 L 676.0 225.0 L 678.5 224.3 L 681.0 229.0 L 684.0 219.0 L 688.0 222.0 L 692.0 212.0 L 695.0 212.4 L 698.0 213.0 L 701.0 213.7 L 704.0 214.0 L 708.0 216.0 L 711.0 209.0 L 715.0 211.0 L 717.0 221.0 L 719.5 218.1 L 722.0 218.0 L 726.0 209.0 L 728.5 213.4 L 731.0 213.0 L 733.5 206.3 L 736.0 206.0 L 740.0 219.0 L 742.5 211.2 L 745.0 211.0 L 747.3 201.8 L 749.6 202.0 L 752.3 202.7 L 755.0 206.0 L 757.8 205.4 L 760.6 202.0" fill="none" stroke="#cccccc" stroke-width="2" stroke-linejoin="round" stroke-linecap="round"/><path d="M59.0 109.9h2.0l3.5 3.5v2.0l-3.5 3.5h-2.0l-3.5 -3.5v-2.0zM62.0 102.5h2.0l3.5 3.5v2.0l-3.5 3.5h-2.0l-3.5 -3.5v-2.0zM64.0 99.5h2.0l3.5 3.5v2.0l-3.5 3.5h-2.0l-3.5 -3.5v-2.0zM66.5 99.3h2.0l3.5 3.5v2.0l-3.5 3.5h-2.0l-3.5 -3.5v-2.0zM69.0 95.5h2.0l3.5 3.5v2.0l-3.5 3.5h-2.0l-3.5 -3.5v-2.0zM72.6 91.9h2.0l3.5 3.5v2.0l-3.5 3.5h-2.0l-3.5 -3.5v-2.0zM74.0 75.5h2.0l3.5 3.5v2.0l-3.5 3.5h-2.0l-3.5 -3.5v-2.0zM78.0 75.1h2.0l3.5 3.5v2.0l-3.5 3.5h-2.0l-3.5 -3.5v-2.0zM82.0 80.5h2.0l3.5 3.5v2.0l-3.5 3.5h-2.0l-3.5 -3.5v-2.0zM85.0 72.5h2.0l3.5 3.5v2.0l-3.5 3.5h-2.0l-3.5 -3.5v-2.0zM87.4 61.5h2.0l3.5 3.5v2.0l-3.5 3.5h-2.0l-3.5 -3.5v-2.0zM90.0 85.5h2.0l3.5 3.5v2.0l-3.5 3.5h-2.0l-3.5 -3.5v-2.0zM93.0 94.5h2.0l3.5 3.5v2.0l-3.5 3.5h-2.0l-3.5 -3.5v-2.0zM95.0 115.5h2.0l3.5 3.5v2.0l-3.5 3.5h-2.0l-3.5 -3.5v-2.0zM99.0 109.5h2.0l3.5 3.5v2.0l-3.5 3.5h-2.0l-3.5 -3.5v-2.0zM101.4 93.5h2.0l3.5 3.5v2.0l-3.5 3.5h-2.0l-3.5 -3.5v-2.0zM105.0 98.5h2.0l3.5 3.5v2.0l-3.5 3.5h-2.0l-3.5 -3.5v-2.0zM109.0 100.5h2.0l3.5 3.5v2.0l-3.5 3.5h-2.0l-3.5 -3.5v-2.0zM111.0 118.5h2.0l3.5 3.5v2.0l-3.5 3.5h-2.0l-3.5 -3.5v-2.0zM114.0 101.5h2.0l3.5 3.5v2.0l-3.5 3.5h-2.0l-3.5 -3.5v-2.0zM116.4 89.1h2.0l3.5 3.5v2.0l-3.5 3.5h-2.0l-3.5 -3.5v-2.0zM119.0 107.5h2.0l3.5 3.5v2.0l-3.5 3.5h-2.0l-3.5 -3.5v-2.0zM123.0 108.5h2.0l3.5 3.5v2.0l-3.5 3.5h-2.0l-3.5 -3.5v-2.0zM125.5 108.4h2.0l3.5 3.5v2.0l-3.5 3.5h-2.0l-3.5 -3.5v-2.0zM128.0 109.5h2.0l3.5 3.5v2.0l-3.5 3.5h-2.0l-3.5 -3.5v-2.0zM132.0 125.5h2.0l3.5 3.5v2.0l-3.5 3.5h-2.0l-3.5 -3.5v-2.0zM135.0 113.5h2.0l3.5 3.5v2.0l-3.5 3.5h-2.0l-3.5 -3.5v-2.0zM137.5 114.1h2.0l3.5 3.5v2.0l-3.5 3.5h-2.0l-3.5 -3.5v-2.0zM140.0 130.5h2.0l3.5 3.5v2.0l-3.5 3.5h-2.0l-3.5 -3.5v-2.0zM142.5 117.9h2.0l3.5 3.5v2.0l-3.5 3.5h-2.0l-3.5 -3.5v-2.0zM145.0 118.5h2.0l3.5 3.5v2.0l-3.5 3.5h-2.0l-3.5 -3.5v-2.0zM148.0 118.7h2.0l3.5 3.5v2.0l-3.5 3.5h-2.0l-3.5 -3.5v-2.0zM151.0 123.5h2.0l3.5 3.5v2.0l-3.5 3.5h-2.0l-3.5 -3.5v-2.0zM153.0 134.5h2.0l3.5 3.5v2.0l-3.5 3.5h-2.0l-3.5 -3.5v-2.0zM155.5 138.3h2.0l3.5 3.5v2.0l-3.5 3.5h-2.0l-3.5 -3.5v-2.0zM158.0 138.5h2.0l3.5 3.5v2.0l-3.5 3.5h-2.0l-3.5 -3.5v-2.0zM162.0 145.5h2.0l3.5 3.5v2.0l-3.5 3.5h-2.0l-3.5 -3.5v-2.0zM164.3 144.5h2.0l3.5 3.5v2.0l-3.5 3.5h-2.0l-3.5 -3.5v-2.0zM166.7 145.1h2.0l3.5 3.5v2.0l-3.5 3.5h-2.0l-3.5 -3.5v-2.0zM169.0 146.5h2.0l3.5 3.5v2.0l-3.5 3.5h-2.0l-3.5 -3.5v-2.0zM173.0 152.5h2.0l3.5 3.5v2.0l-3.5 3.5h-2.0l-3.5 -3.5v-2.0zM174.0 176.5h2.0l3.5 3.5v2.0l-3.5 3.5h-2.0l-3.5 -3.5v-2.0zM178.0 167.5h2.0l3.5 3.5v2.0l-3.5 3.5h-2.0l-3.5 -3.5v-2.0zM180.5 178.2h2.0l3.5 3.5v2.0l-3.5 3.5h-2.0l-3.5 -3.5v-2.0zM183.0 177.5h2.0l3.5 3.5v2.0l-3.5 3.5h-2.0l-3.5 -3.5v-2.0zM187.0 186.5h2.0l3.5 3.5v2.0l-3.5 3.5h-2.0l-3.5 -3.5v-2.0zM190.0 186.0h2.0l3.5 3.5v2.0l-3.5 3.5h-2.0l-3.5 -3.5v-2.0zM193.0 188.5h2.0l3.5 3.5v2.0l-3.5 3.5h-2.0l-3.5 -3.5v-2.0zM195.5 198.2h2.0l3.5 3.5v2.0l-3.5 3.5h-2.0l-3.5 -3.5v-2.0zM198.0 197.5h2.0l3.5 3.5v2.0l-3.5 3.5h-2.0l-3.5 -3.5v-2.0zM200.5 200.2h2.0l3.5 3.5v2.0l-3.5 3.5h-2.0l-3.5 -3.5v-2.0zM203.0 200.5h2.0l3.5 3.5v2.0l-3.5 3.5h-2.0l-3.5 -3.5v-2.0zM207.0 197.5h2.0l3.5 3.5v2.0l-3.5 3.5h-2.0l-3.5 -3.5v-2.0zM211.0 188.5h2.0l3.5 3.5v2.0l-3.5 3.5h-2.0l-3.5 -3.5v-2.0zM215.0 191.5h2.0l3.5 3.5v2.0l-3.5 3.5h-2.0l-3.5 -3.5v-2.0zM217.5 193.8h2.0l3.5 3.5v2.0l-3.5 3.5h-2.0l-3.5 -3.5v-2.0zM220.0 194.5h2.0l3.5 3.5v2.0l-3.5 3.5h-2.0l-3.5 -3.5v-2.0zM224.0 192.5h2.0l3.5 3.5v2.0l-3.5 3.5h-2.0l-3.5 -3.5v-2.0zM226.5 194.1h2.0l3.5 3.5v2.0l-3.5 3.5h-2.0l-3.5 -3.5v-2.0zM229.0 193.5h2.0l3.5 3.5v2.0l-3.5 3.5h-2.0l-3.5 -3.5v-2.0zM231.3 192.1h2.0l3.5 3.5v2.0l-3.5 3.5h-2.0l-3.5 -3.5v-2.0zM233.7 189.3h2.0l3.5 3.5v2.0l-3.5 3.5h-2.0l-3.5 -3.5v-2.0zM236.0 185.5h2.0l3.5 3.5v2.0l-3.5 3.5h-2.0l-3.5 -3.5v-2.0zM237.4 174.5h2.0l3.5 3.5v2.0l-3.5 3.5h-2.0l-3.5 -3.5v-2.0zM240.0 155.5h2.0l3.5 3.5v2.0l-3.5 3.5h-2.0l-3.5 -3.5v-2.0zM243.4 145.5h2.0l3.5 3.5v2.0l-3.5 3.5h-2.0l-3.5 -3.5v-2.0zM247.0 153.5h2.0l3.5 3.5v2.0l-3.5 3.5h-2.0l-3.5 -3.5v-2.0zM251.0 150.5h2.0l3.5 3.5v2.0l-3.5 3.5h-2.0l-3.5 -3.5v-2.0zM254.0 157.5h2.0l3.5 3.5v2.0l-3.5 3.5h-2.0l-3.5 -3.5v-2.0zM257.0 158.0h2.0l3.5 3.5v2.0l-3.5 3.5h-2.0l-3.5 -3.5v-2.0zM260.0 154.5h2.0l3.5 3.5v2.0l-3.5 3.5h-2.0l-3.5 -3.5v-2.0zM263.0 153.8h2.0l3.5 3.5v2.0l-3.5 3.5h-2.0l-3.5 -3.5v-2.0zM266.0 154.5h2.0l3.5 3.5v2.0l-3.5 3.5h-2.0l-3.5 -3.5v-2.0zM269.0 141.5h2.0l3.5 3.5v2.0l-3.5 3.5h-2.0l-3.5 -3.5v-2.0zM271.5 136.0h2.0l3.5 3.5v2.0l-3.5 3.5h-2.0l-3.5 -3.5v-2.0zM274.0 135.5h2.0l3.5 3.5v2.0l-3.5 3.5h-2.0l-3.5 -3.5v-2.0zM277.0 139.5h2.0l3.5 3.5v2.0l-3.5 3.5h-2.0l-3.5 -3.5v-2.0zM279.5 129.1h2.0l3.5 3.5v2.0l-3.5 3.5h-2.0l-3.5 -3.5v-2.0zM282.0 129.5h2.0l3.5 3.5v2.0l-3.5 3.5h-2.0l-3.5 -3.5v-2.0zM284.5 143.2h2.0l3.5 3.5v2.0l-3.5 3.5h-2.0l-3.5 -3.5v-2.0zM287.0 142.5h2.0l3.5 3.5v2.0l-3.5 3.5h-2.0l-3.5 -3.5v-2.0zM289.5 142.2h2.0l3.5 3.5v2.0l-3.5 3.5h-2.0l-3.5 -3.5v-2.0zM292.0 140.5h2.0l3.5 3.5v2.0l-3.5 3.5h-2.0l-3.5 -3.5v-2.0zM296.0 147.5h2.0l3.5 3.5v2.0l-3.5 3.5h-2.0l-3.5 -3.5v-2.0zM298.5 148.1h2.0l3.5 3.5v2.0l-3.5 3.5h-2.0l-3.5 -3.5v-2.0zM301.0 148.5h2.0l3.5 3.5v2.0l-3.5 3.5h-2.0l-3.5 -3.5v-2.0zM303.5 148.4h2.0l3.5 3.5v2.0l-3.5 3.5h-2.0l-3.5 -3.5v-2.0zM306.0 136.5h2.0l3.5 3.5v2.0l-3.5 3.5h-2.0l-3.5 -3.5v-2.0zM308.5 145.0h2.0l3.5 3.5v2.0l-3.5 3.5h-2.0l-3.5 -3.5v-2.0zM311.0 145.5h2.0l3.5 3.5v2.0l-3.5 3.5h-2.0l-3.5 -3.5v-2.0zM315.0 139.5h2.0l3.5 3.5v2.0l-3.5 3.5h-2.0l-3.5 -3.5v-2.0zM317.5 134.7h2.0l3.5 3.5v2.0l-3.5 3.5h-2.0l-3.5 -3.5v-2.0zM320.0 134.5h2.0l3.5 3.5v2.0l-3.5 3.5h-2.0l-3.5 -3.5v-2.0zM322.3 136.9h2.0l3.5 3.5v2.0l-3.5 3.5h-2.0l-3.5 -3.5v-2.0zM324.7 139.9h2.0l3.5 3.5v2.0l-3.5 3.5h-2.0l-3.5 -3.5v-2.0zM327.0 140.5h2.0l3.5 3.5v2.0l-3.5 3.5h-2.0l-3.5 -3.5v-2.0zM330.0 141.2h2.0l3.5 3.5v2.0l-3.5 3.5h-2.0l-3.5 -3.5v-2.0zM333.0 136.5h2.0l3.5 3.5v2.0l-3.5 3.5h-2.0l-3.5 -3.5v-2.0zM335.2 136.7h2.0l3.5 3.5v2.0l-3.5 3.5h-2.0l-3.5 -3.5v-2.0zM337.4 128.5h2.0l3.5 3.5v2.0l-3.5 3.5h-2.0l-3.5 -3.5v-2.0zM341.0 141.5h2.0l3.5 3.5v2.0l-3.5 3.5h-2.0l-3.5 -3.5v-2.0zM343.5 142.2h2.0l3.5 3.5v2.0l-3.5 3.5h-2.0l-3.5 -3.5v-2.0zM346.0 135.5h2.0l3.5 3.5v2.0l-3.5 3.5h-2.0l-3.5 -3.5v-2.0zM349.0 135.5h2.0l3.5 3.5v2.0l-3.5 3.5h-2.0l-3.5 -3.5v-2.0zM351.3 135.2h2.0l3.5 3.5v2.0l-3.5 3.5h-2.0l-3.5 -3.5v-2.0zM353.7 134.9h2.0l3.5 3.5v2.0l-3.5 3.5h-2.0l-3.5 -3.5v-2.0zM356.0 132.5h2.0l3.5 3.5v2.0l-3.5 3.5h-2.0l-3.5 -3.5v-2.0zM358.5 133.2h2.0l3.5 3.5v2.0l-3.5 3.5h-2.0l-3.5 -3.5v-2.0zM361.0 136.5h2.0l3.5 3.5v2.0l-3.5 3.5h-2.0l-3.5 -3.5v-2.0zM364.0 128.1h2.0l3.5 3.5v2.0l-3.5 3.5h-2.0l-3.5 -3.5v-2.0zM367.0 128.5h2.0l3.5 3.5v2.0l-3.5 3.5h-2.0l-3.5 -3.5v-2.0zM369.5 128.4h2.0l3.5 3.5v2.0l-3.5 3.5h-2.0l-3.5 -3.5v-2.0zM372.0 133.5h2.0l3.5 3.5v2.0l-3.5 3.5h-2.0l-3.5 -3.5v-2.0zM376.0 129.5h2.0l3.5 3.5v2.0l-3.5 3.5h-2.0l-3.5 -3.5v-2.0zM379.0 129.1h2.0l3.5 3.5v2.0l-3.5 3.5h-2.0l-3.5 -3.5v-2.0zM382.0 139.5h2.0l3.5 3.5v2.0l-3.5 3.5h-2.0l-3.5 -3.5v-2.0zM384.3 139.5h2.0l3.5 3.5v2.0l-3.5 3.5h-2.0l-3.5 -3.5v-2.0zM386.7 141.9h2.0l3.5 3.5v2.0l-3.5 3.5h-2.0l-3.5 -3.5v-2.0zM389.0 142.5h2.0l3.5 3.5v2.0l-3.5 3.5h-2.0l-3.5 -3.5v-2.0zM392.0 142.6h2.0l3.5 3.5v2.0l-3.5 3.5h-2.0l-3.5 -3.5v-2.0zM395.0 141.5h2.0l3.5 3.5v2.0l-3.5 3.5h-2.0l-3.5 -3.5v-2.0zM398.0 141.1h2.0l3.5 3.5v2.0l-3.5 3.5h-2.0l-3.5 -3.5v-2.0zM401.0 144.5h2.0l3.5 3.5v2.0l-3.5 3.5h-2.0l-3.5 -3.5v-2.0zM405.0 152.5h2.0l3.5 3.5v2.0l-3.5 3.5h-2.0l-3.5 -3.5v-2.0zM407.5 152.4h2.0l3.5 3.5v2.0l-3.5 3.5h-2.0l-3.5 -3.5v-2.0zM410.0 150.5h2.0l3.5 3.5v2.0l-3.5 3.5h-2.0l-3.5 -3.5v-2.0zM412.0 159.5h2.0l3.5 3.5v2.0l-3.5 3.5h-2.0l-3.5 -3.5v-2.0zM414.5 159.5h2.0l3.5 3.5v2.0l-3.5 3.5h-2.0l-3.5 -3.5v-2.0zM417.0 155.5h2.0l3.5 3.5v2.0l-3.5 3.5h-2.0l-3.5 -3.5v-2.0zM420.0 164.0h2.0l3.5 3.5v2.0l-3.5 3.5h-2.0l-3.5 -3.5v-2.0zM423.0 163.5h2.0l3.5 3.5v2.0l-3.5 3.5h-2.0l-3.5 -3.5v-2.0zM426.0 157.8h2.0l3.5 3.5v2.0l-3.5 3.5h-2.0l-3.5 -3.5v-2.0zM429.0 158.5h2.0l3.5 3.5v2.0l-3.5 3.5h-2.0l-3.5 -3.5v-2.0zM432.0 153.5h2.0l3.5 3.5v2.0l-3.5 3.5h-2.0l-3.5 -3.5v-2.0zM434.5 154.1h2.0l3.5 3.5v2.0l-3.5 3.5h-2.0l-3.5 -3.5v-2.0zM437.0 158.5h2.0l3.5 3.5v2.0l-3.5 3.5h-2.0l-3.5 -3.5v-2.0zM441.0 167.5h2.0l3.5 3.5v2.0l-3.5 3.5h-2.0l-3.5 -3.5v-2.0zM444.0 166.5h2.0l3.5 3.5v2.0l-3.5 3.5h-2.0l-3.5 -3.5v-2.0zM447.0 166.5h2.0l3.5 3.5v2.0l-3.5 3.5h-2.0l-3.5 -3.5v-2.0zM449.5 167.0h2.0l3.5 3.5v2.0l-3.5 3.5h-2.0l-3.5 -3.5v-2.0zM452.0 172.5h2.0l3.5 3.5v2.0l-3.5 3.5h-2.0l-3.5 -3.5v-2.0zM454.5 164.8h2.0l3.5 3.5v2.0l-3.5 3.5h-2.0l-3.5 -3.5v-2.0zM457.0 165.5h2.0l3.5 3.5v2.0l-3.5 3.5h-2.0l-3.5 -3.5v-2.0zM459.0 180.5h2.0l3.5 3.5v2.0l-3.5 3.5h-2.0l-3.5 -3.5v-2.0zM461.3 177.2h2.0l3.5 3.5v2.0l-3.5 3.5h-2.0l-3.5 -3.5v-2.0zM463.7 175.4h2.0l3.5 3.5v2.0l-3.5 3.5h-2.0l-3.5 -3.5v-2.0zM466.0 174.5h2.0l3.5 3.5v2.0l-3.5 3.5h-2.0l-3.5 -3.5v-2.0zM469.0 173.9h2.0l3.5 3.5v2.0l-3.5 3.5h-2.0l-3.5 -3.5v-2.0zM472.0 178.5h2.0l3.5 3.5v2.0l-3.5 3.5h-2.0l-3.5 -3.5v-2.0zM475.0 188.5h2.0l3.5 3.5v2.0l-3.5 3.5h-2.0l-3.5 -3.5v-2.0zM477.3 186.7h2.0l3.5 3.5v2.0l-3.5 3.5h-2.0l-3.5 -3.5v-2.0zM479.7 185.1h2.0l3.5 3.5v2.0l-3.5 3.5h-2.0l-3.5 -3.5v-2.0zM482.0 185.5h2.0l3.5 3.5v2.0l-3.5 3.5h-2.0l-3.5 -3.5v-2.0zM484.5 184.8h2.0l3.5 3.5v2.0l-3.5 3.5h-2.0l-3.5 -3.5v-2.0zM487.0 193.5h2.0l3.5 3.5v2.0l-3.5 3.5h-2.0l-3.5 -3.5v-2.0zM490.0 190.9h2.0l3.5 3.5v2.0l-3.5 3.5h-2.0l-3.5 -3.5v-2.0zM493.0 190.5h2.0l3.5 3.5v2.0l-3.5 3.5h-2.0l-3.5 -3.5v-2.0zM497.0 199.5h2.0l3.5 3.5v2.0l-3.5 3.5h-2.0l-3.5 -3.5v-2.0zM499.5 192.8h2.0l3.5 3.5v2.0l-3.5 3.5h-2.0l-3.5 -3.5v-2.0zM502.0 193.5h2.0l3.5 3.5v2.0l-3.5 3.5h-2.0l-3.5 -3.5v-2.0zM504.5 193.8h2.0l3.5 3.5v2.0l-3.5 3.5h-2.0l-3.5 -3.5v-2.0zM507.0 207.5h2.0l3.5 3.5v2.0l-3.5 3.5h-2.0l-3.5 -3.5v-2.0zM509.0 194.5h2.0l3.5 3.5v2.0l-3.5 3.5h-2.0l-3.5 -3.5v-2.0zM512.0 194.2h2.0l3.5 3.5v2.0l-3.5 3.5h-2.0l-3.5 -3.5v-2.0zM515.0 202.5h2.0l3.5 3.5v2.0l-3.5 3.5h-2.0l-3.5 -3.5v-2.0zM519.0 204.5h2.0l3.5 3.5v2.0l-3.5 3.5h-2.0l-3.5 -3.5v-2.0zM523.0 212.5h2.0l3.5 3.5v2.0l-3.5 3.5h-2.0l-3.5 -3.5v-2.0zM526.0 205.4h2.0l3.5 3.5v2.0l-3.5 3.5h-2.0l-3.5 -3.5v-2.0zM529.0 205.5h2.0l3.5 3.5v2.0l-3.5 3.5h-2.0l-3.5 -3.5v-2.0zM531.3 205.1h2.0l3.5 3.5v2.0l-3.5 3.5h-2.0l-3.5 -3.5v-2.0zM533.7 206.6h2.0l3.5 3.5v2.0l-3.5 3.5h-2.0l-3.5 -3.5v-2.0zM536.0 205.5h2.0l3.5 3.5v2.0l-3.5 3.5h-2.0l-3.5 -3.5v-2.0zM539.0 210.9h2.0l3.5 3.5v2.0l-3.5 3.5h-2.0l-3.5 -3.5v-2.0zM542.0 210.5h2.0l3.5 3.5v2.0l-3.5 3.5h-2.0l-3.5 -3.5v-2.0zM544.5 209.8h2.0l3.5 3.5v2.0l-3.5 3.5h-2.0l-3.5 -3.5v-2.0zM547.0 217.5h2.0l3.5 3.5v2.0l-3.5 3.5h-2.0l-3.5 -3.5v-2.0zM549.5 217.9h2.0l3.5 3.5v2.0l-3.5 3.5h-2.0l-3.5 -3.5v-2.0zM552.0 224.5h2.0l3.5 3.5v2.0l-3.5 3.5h-2.0l-3.5 -3.5v-2.0zM554.3 223.6h2.0l3.5 3.5v2.0l-3.5 3.5h-2.0l-3.5 -3.5v-2.0zM556.7 220.5h2.0l3.5 3.5v2.0l-3.5 3.5h-2.0l-3.5 -3.5v-2.0zM559.0 219.5h2.0l3.5 3.5v2.0l-3.5 3.5h-2.0l-3.5 -3.5v-2.0zM561.3 221.0h2.0l3.5 3.5v2.0l-3.5 3.5h-2.0l-3.5 -3.5v-2.0zM563.7 224.4h2.0l3.5 3.5v2.0l-3.5 3.5h-2.0l-3.5 -3.5v-2.0zM566.0 225.5h2.0l3.5 3.5v2.0l-3.5 3.5h-2.0l-3.5 -3.5v-2.0zM568.3 223.8h2.0l3.5 3.5v2.0l-3.5 3.5h-2.0l-3.5 -3.5v-2.0zM570.7 220.4h2.0l3.5 3.5v2.0l-3.5 3.5h-2.0l-3.5 -3.5v-2.0zM573.0 219.5h2.0l3.5 3.5v2.0l-3.5 3.5h-2.0l-3.5 -3.5v-2.0zM576.0 219.0h2.0l3.5 3.5v2.0l-3.5 3.5h-2.0l-3.5 -3.5v-2.0zM579.0 222.5h2.0l3.5 3.5v2.0l-3.5 3.5h-2.0l-3.5 -3.5v-2.0zM582.0 223.2h2.0l3.5 3.5v2.0l-3.5 3.5h-2.0l-3.5 -3.5v-2.0zM585.0 214.5h2.0l3.5 3.5v2.0l-3.5 3.5h-2.0l-3.5 -3.5v-2.0zM588.0 208.5h2.0l3.5 3.5v2.0l-3.5 3.5h-2.0l-3.5 -3.5v-2.0zM593.0 180.5h2.0l3.5 3.5v2.0l-3.5 3.5h-2.0l-3.5 -3.5v-2.0zM595.0 154.5h2.0l3.5 3.5v2.0l-3.5 3.5h-2.0l-3.5 -3.5v-2.0zM598.4 147.5h2.0l3.5 3.5v2.0l-3.5 3.5h-2.0l-3.5 -3.5v-2.0zM601.4 163.5h2.0l3.5 3.5v2.0l-3.5 3.5h-2.0l-3.5 -3.5v-2.0zM603.0 182.5h2.0l3.5 3.5v2.0l-3.5 3.5h-2.0l-3.5 -3.5v-2.0zM606.0 194.1h2.0l3.5 3.5v2.0l-3.5 3.5h-2.0l-3.5 -3.5v-2.0zM609.0 194.5h2.0l3.5 3.5v2.0l-3.5 3.5h-2.0l-3.5 -3.5v-2.0zM610.0 181.5h2.0l3.5 3.5v2.0l-3.5 3.5h-2.0l-3.5 -3.5v-2.0zM614.0 178.5h2.0l3.5 3.5v2.0l-3.5 3.5h-2.0l-3.5 -3.5v-2.0zM616.0 194.5h2.0l3.5 3.5v2.0l-3.5 3.5h-2.0l-3.5 -3.5v-2.0zM619.0 183.5h2.0l3.5 3.5v2.0l-3.5 3.5h-2.0l-3.5 -3.5v-2.0zM623.0 181.5h2.0l3.5 3.5v2.0l-3.5 3.5h-2.0l-3.5 -3.5v-2.0zM625.0 190.5h2.0l3.5 3.5v2.0l-3.5 3.5h-2.0l-3.5 -3.5v-2.0zM627.0 203.5h2.0l3.5 3.5v2.0l-3.5 3.5h-2.0l-3.5 -3.5v-2.0zM631.0 207.5h2.0l3.5 3.5v2.0l-3.5 3.5h-2.0l-3.5 -3.5v-2.0zM633.0 210.5h2.0l3.5 3.5v2.0l-3.5 3.5h-2.0l-3.5 -3.5v-2.0zM636.0 210.2h2.0l3.5 3.5v2.0l-3.5 3.5h-2.0l-3.5 -3.5v-2.0zM639.0 216.5h2.0l3.5 3.5v2.0l-3.5 3.5h-2.0l-3.5 -3.5v-2.0zM642.0 220.5h2.0l3.5 3.5v2.0l-3.5 3.5h-2.0l-3.5 -3.5v-2.0zM644.5 220.5h2.0l3.5 3.5v2.0l-3.5 3.5h-2.0l-3.5 -3.5v-2.0zM647.0 228.5h2.0l3.5 3.5v2.0l-3.5 3.5h-2.0l-3.5 -3.5v-2.0zM651.0 225.5h2.0l3.5 3.5v2.0l-3.5 3.5h-2.0l-3.5 -3.5v-2.0zM655.0 222.5h2.0l3.5 3.5v2.0l-3.5 3.5h-2.0l-3.5 -3.5v-2.0zM657.5 223.0h2.0l3.5 3.5v2.0l-3.5 3.5h-2.0l-3.5 -3.5v-2.0zM660.0 231.5h2.0l3.5 3.5v2.0l-3.5 3.5h-2.0l-3.5 -3.5v-2.0zM662.5 230.8h2.0l3.5 3.5v2.0l-3.5 3.5h-2.0l-3.5 -3.5v-2.0zM665.0 222.5h2.0l3.5 3.5v2.0l-3.5 3.5h-2.0l-3.5 -3.5v-2.0zM667.5 224.7h2.0l3.5 3.5v2.0l-3.5 3.5h-2.0l-3.5 -3.5v-2.0zM670.0 224.5h2.0l3.5 3.5v2.0l-3.5 3.5h-2.0l-3.5 -3.5v-2.0zM672.5 221.0h2.0l3.5 3.5v2.0l-3.5 3.5h-2.0l-3.5 -3.5v-2.0zM675.0 220.5h2.0l3.5 3.5v2.0l-3.5 3.5h-2.0l-3.5 -3.5v-2.0zM677.5 219.8h2.0l3.5 3.5v2.0l-3.5 3.5h-2.0l-3.5 -3.5v-2.0zM680.0 224.5h2.0l3.5 3.5v2.0l-3.5 3.5h-2.0l-3.5 -3.5v-2.0zM683.0 214.5h2.0l3.5 3.5v2.0l-3.5 3.5h-2.0l-3.5 -3.5v-2.0zM687.0 217.5h2.0l3.5 3.5v2.0l-3.5 3.5h-2.0l-3.5 -3.5v-2.0zM691.0 207.5h2.0l3.5 3.5v2.0l-3.5 3.5h-2.0l-3.5 -3.5v-2.0zM694.0 207.9h2.0l3.5 3.5v2.0l-3.5 3.5h-2.0l-3.5 -3.5v-2.0zM697.0 208.5h2.0l3.5 3.5v2.0l-3.5 3.5h-2.0l-3.5 -3.5v-2.0zM700.0 209.2h2.0l3.5 3.5v2.0l-3.5 3.5h-2.0l-3.5 -3.5v-2.0zM703.0 209.5h2.0l3.5 3.5v2.0l-3.5 3.5h-2.0l-3.5 -3.5v-2.0zM707.0 211.5h2.0l3.5 3.5v2.0l-3.5 3.5h-2.0l-3.5 -3.5v-2.0zM710.0 204.5h2.0l3.5 3.5v2.0l-3.5 3.5h-2.0l-3.5 -3.5v-2.0zM714.0 206.5h2.0l3.5 3.5v2.0l-3.5 3.5h-2.0l-3.5 -3.5v-2.0zM716.0 216.5h2.0l3.5 3.5v2.0l-3.5 3.5h-2.0l-3.5 -3.5v-2.0zM718.5 213.6h2.0l3.5 3.5v2.0l-3.5 3.5h-2.0l-3.5 -3.5v-2.0zM721.0 213.5h2.0l3.5 3.5v2.0l-3.5 3.5h-2.0l-3.5 -3.5v-2.0zM725.0 204.5h2.0l3.5 3.5v2.0l-3.5 3.5h-2.0l-3.5 -3.5v-2.0zM727.5 208.9h2.0l3.5 3.5v2.0l-3.5 3.5h-2.0l-3.5 -3.5v-2.0zM730.0 208.5h2.0l3.5 3.5v2.0l-3.5 3.5h-2.0l-3.5 -3.5v-2.0zM732.5 201.8h2.0l3.5 3.5v2.0l-3.5 3.5h-2.0l-3.5 -3.5v-2.0zM735.0 201.5h2.0l3.5 3.5v2.0l-3.5 3.5h-2.0l-3.5 -3.5v-2.0zM739.0 214.5h2.0l3.5 3.5v2.0l-3.5 3.5h-2.0l-3.5 -3.5v-2.0zM741.5 206.7h2.0l3.5 3.5v2.0l-3.5 3.5h-2.0l-3.5 -3.5v-2.0zM744.0 206.5h2.0l3.5 3.5v2.0l-3.5 3.5h-2.0l-3.5 -3.5v-2.0zM746.3 197.3h2.0l3.5 3.5v2.0l-3.5 3.5h-2.0l-3.5 -3.5v-2.0zM748.6 197.5h2.0l3.5 3.5v2.0l-3.5 3.5h-2.0l-3.5 -3.5v-2.0zM751.3 198.2h2.0l3.5 3.5v2.0l-3.5 3.5h-2.0l-3.5 -3.5v-2.0zM754.0 201.5h2.0l3.5 3.5v2.0l-3.5 3.5h-2.0l-3.5 -3.5v-2.0zM756.8 200.9h2.0l3.5 3.5v2.0l-3.5 3.5h-2.0l-3.5 -3.5v-2.0zM759.6 197.5h2.0l3.5 3.5v2.0l-3.5 3.5h-2.0l-3.5 -3.5v-2.0z" fill="#cccccc"/></g>
</svg>
</div>
</body>
</html>
